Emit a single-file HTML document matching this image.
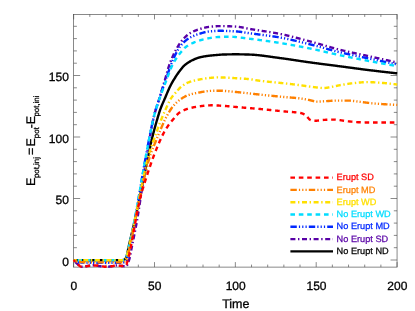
<!DOCTYPE html>
<html><head><meta charset="utf-8"><title>plot</title>
<style>html,body{margin:0;padding:0;background:#fff;}svg{display:block;will-change:transform;}text{text-rendering:geometricPrecision;font-family:"Liberation Sans",sans-serif;}</style></head><body>
<svg width="415" height="311" viewBox="0 0 415 311">
<rect width="415" height="311" fill="#ffffff"/>
<g stroke="#4a4a4a" stroke-width="0.65" fill="none">
<rect x="73.65" y="14.40" width="323.40" height="252.70"/>
<path d="M73.65 267.10 v-5.00 M73.65 14.40 v5.00 M89.82 267.10 v-2.50 M89.82 14.40 v2.50 M105.99 267.10 v-2.50 M105.99 14.40 v2.50 M122.16 267.10 v-2.50 M122.16 14.40 v2.50 M138.33 267.10 v-2.50 M138.33 14.40 v2.50 M154.50 267.10 v-5.00 M154.50 14.40 v5.00 M170.67 267.10 v-2.50 M170.67 14.40 v2.50 M186.84 267.10 v-2.50 M186.84 14.40 v2.50 M203.01 267.10 v-2.50 M203.01 14.40 v2.50 M219.18 267.10 v-2.50 M219.18 14.40 v2.50 M235.35 267.10 v-5.00 M235.35 14.40 v5.00 M251.52 267.10 v-2.50 M251.52 14.40 v2.50 M267.69 267.10 v-2.50 M267.69 14.40 v2.50 M283.86 267.10 v-2.50 M283.86 14.40 v2.50 M300.03 267.10 v-2.50 M300.03 14.40 v2.50 M316.20 267.10 v-5.00 M316.20 14.40 v5.00 M332.37 267.10 v-2.50 M332.37 14.40 v2.50 M348.54 267.10 v-2.50 M348.54 14.40 v2.50 M364.71 267.10 v-2.50 M364.71 14.40 v2.50 M380.88 267.10 v-2.50 M380.88 14.40 v2.50 M397.05 267.10 v-5.00 M397.05 14.40 v5.00 M73.65 260.00 h6.50 M397.05 260.00 h-6.50 M73.65 247.70 h3.25 M397.05 247.70 h-3.25 M73.65 235.40 h3.25 M397.05 235.40 h-3.25 M73.65 223.10 h3.25 M397.05 223.10 h-3.25 M73.65 210.80 h3.25 M397.05 210.80 h-3.25 M73.65 198.50 h6.50 M397.05 198.50 h-6.50 M73.65 186.20 h3.25 M397.05 186.20 h-3.25 M73.65 173.90 h3.25 M397.05 173.90 h-3.25 M73.65 161.60 h3.25 M397.05 161.60 h-3.25 M73.65 149.30 h3.25 M397.05 149.30 h-3.25 M73.65 137.00 h6.50 M397.05 137.00 h-6.50 M73.65 124.70 h3.25 M397.05 124.70 h-3.25 M73.65 112.40 h3.25 M397.05 112.40 h-3.25 M73.65 100.10 h3.25 M397.05 100.10 h-3.25 M73.65 87.80 h3.25 M397.05 87.80 h-3.25 M73.65 75.50 h6.50 M397.05 75.50 h-6.50 M73.65 63.20 h3.25 M397.05 63.20 h-3.25 M73.65 50.90 h3.25 M397.05 50.90 h-3.25 M73.65 38.60 h3.25 M397.05 38.60 h-3.25 M73.65 26.30 h3.25 M397.05 26.30 h-3.25"/>
</g>
<g fill="none" stroke-width="2.40" stroke-linejoin="round">
<path d="M73.70 260.20 L74.20 260.20 L74.70 260.20 L75.20 260.20 L75.70 260.20 L76.20 260.20 L76.70 260.20 L77.20 260.20 L77.70 260.20 L78.20 260.20 L78.70 260.20 L79.20 260.20 L79.70 260.20 L80.20 260.20 L80.70 260.20 L81.20 260.20 L81.70 260.20 L82.20 260.20 L82.70 260.20 L83.20 260.20 L83.70 260.20 L84.20 260.20 L84.70 260.20 L85.20 260.20 L85.70 260.20 L86.20 260.20 L86.70 260.20 L87.20 260.20 L87.70 260.20 L88.20 260.20 L88.70 260.20 L89.20 260.20 L89.70 260.20 L90.20 260.20 L90.70 260.20 L91.20 260.20 L91.70 260.20 L92.20 260.20 L92.70 260.20 L93.20 260.20 L93.70 260.20 L94.20 260.20 L94.70 260.20 L95.20 260.20 L95.70 260.20 L96.20 260.20 L96.70 260.20 L97.20 260.20 L97.70 260.20 L98.20 260.20 L98.70 260.20 L99.20 260.20 L99.70 260.20 L100.20 260.20 L100.70 260.20 L101.20 260.20 L101.70 260.20 L102.20 260.20 L102.70 260.20 L103.20 260.20 L103.70 260.20 L104.20 260.20 L104.70 260.20 L105.20 260.20 L105.70 260.20 L106.20 260.20 L106.70 260.20 L107.20 260.20 L107.70 260.20 L108.20 260.20 L108.70 260.20 L109.20 260.20 L109.70 260.20 L110.20 260.20 L110.70 260.20 L111.20 260.20 L111.70 260.20 L112.20 260.20 L112.70 260.20 L113.20 260.20 L113.70 260.20 L114.20 260.20 L114.70 260.20 L115.20 260.20 L115.70 260.20 L116.20 260.20 L116.70 260.20 L117.20 260.20 L117.70 260.20 L118.20 260.20 L118.70 260.20 L119.20 260.20 L119.70 260.20 L120.20 260.20 L120.70 260.20 L121.20 260.20 L121.70 260.20 L122.20 260.19 L122.70 260.13 L123.20 260.00 L123.70 259.80 L124.20 259.56 L124.70 259.26 L125.20 258.92 L125.70 258.49 L126.20 257.48 L126.70 255.89 L127.20 253.88 L127.70 251.57 L128.20 249.10 L128.70 246.63 L129.20 244.29 L129.70 242.18 L130.20 240.12 L130.70 238.04 L131.20 235.95 L131.70 233.84 L132.20 231.71 L132.70 229.57 L133.20 227.41 L133.70 225.23 L134.20 223.04 L134.70 220.83 L135.20 218.60 L135.70 216.35 L136.20 214.09 L136.70 211.80 L137.20 209.49 L137.70 207.15 L138.20 204.78 L138.70 202.40 L139.20 200.00 L139.70 197.59 L140.20 195.16 L140.70 192.72 L141.20 190.27 L141.70 187.82 L142.20 185.36 L142.70 182.90 L143.20 180.45 L143.70 177.99 L144.20 175.55 L144.70 173.11 L145.20 170.68 L145.70 168.26 L146.20 165.86 L146.70 163.47 L147.20 161.09 L147.70 158.68 L148.20 156.25 L148.70 153.82 L149.20 151.40 L149.70 149.01 L150.20 146.65 L150.70 144.34 L151.20 142.10 L151.70 139.94 L152.20 137.86 L152.70 135.83 L153.20 133.85 L153.70 131.91 L154.20 130.01 L154.70 128.15 L155.20 126.32 L155.70 124.53 L156.20 122.76 L156.70 121.03 L157.20 119.32 L157.70 117.62 L158.20 115.95 L158.70 114.31 L159.20 112.71 L159.70 111.17 L160.20 109.70 L160.70 108.30 L161.20 106.98 L161.70 105.74 L162.20 104.54 L162.70 103.39 L163.20 102.25 L163.70 101.13 L164.20 99.99 L164.70 98.83 L165.20 97.66 L165.70 96.47 L166.20 95.28 L166.70 94.09 L167.20 92.90 L167.70 91.72 L168.20 90.56 L168.70 89.42 L169.20 88.31 L169.70 87.23 L170.20 86.18 L170.70 85.19 L171.20 84.23 L171.70 83.31 L172.20 82.42 L172.70 81.55 L173.20 80.70 L173.70 79.87 L174.20 79.06 L174.70 78.27 L175.20 77.49 L175.70 76.72 L176.20 75.95 L176.70 75.20 L177.20 74.45 L177.70 73.72 L178.20 73.00 L178.70 72.29 L179.20 71.61 L179.70 70.93 L180.20 70.28 L180.70 69.65 L181.20 69.01 L181.70 68.38 L182.20 67.75 L182.70 67.15 L183.20 66.58 L183.70 66.04 L184.20 65.56 L184.70 65.13 L185.20 64.73 L185.70 64.34 L186.20 63.96 L186.70 63.59 L187.20 63.24 L187.70 62.90 L188.20 62.57 L188.70 62.25 L189.20 61.94 L189.70 61.64 L190.20 61.35 L190.70 61.07 L191.20 60.80 L191.70 60.54 L192.20 60.29 L192.70 60.04 L193.20 59.81 L193.70 59.58 L194.20 59.36 L194.70 59.14 L195.20 58.93 L195.70 58.72 L196.20 58.53 L196.70 58.33 L197.20 58.15 L197.70 57.98 L198.20 57.81 L198.70 57.66 L199.20 57.51 L199.70 57.38 L200.20 57.25 L200.70 57.13 L201.20 57.02 L201.70 56.91 L202.20 56.81 L202.70 56.71 L203.20 56.61 L203.70 56.52 L204.20 56.43 L204.70 56.34 L205.20 56.26 L205.70 56.19 L206.20 56.11 L206.70 56.04 L207.20 55.97 L207.70 55.91 L208.20 55.84 L208.70 55.78 L209.20 55.72 L209.70 55.67 L210.20 55.61 L210.70 55.56 L211.20 55.51 L211.70 55.46 L212.20 55.41 L212.70 55.36 L213.20 55.32 L213.70 55.27 L214.20 55.23 L214.70 55.18 L215.20 55.14 L215.70 55.09 L216.20 55.05 L216.70 55.00 L217.20 54.96 L217.70 54.91 L218.20 54.87 L218.70 54.82 L219.20 54.78 L219.70 54.74 L220.20 54.70 L220.70 54.67 L221.20 54.63 L221.70 54.60 L222.20 54.57 L222.70 54.55 L223.20 54.53 L223.70 54.51 L224.20 54.49 L224.70 54.48 L225.20 54.47 L225.70 54.45 L226.20 54.44 L226.70 54.43 L227.20 54.42 L227.70 54.41 L228.20 54.39 L228.70 54.38 L229.20 54.37 L229.70 54.36 L230.20 54.35 L230.70 54.35 L231.20 54.34 L231.70 54.33 L232.20 54.32 L232.70 54.32 L233.20 54.31 L233.70 54.31 L234.20 54.31 L234.70 54.30 L235.20 54.30 L235.70 54.30 L236.20 54.30 L236.70 54.30 L237.20 54.30 L237.70 54.31 L238.20 54.31 L238.70 54.32 L239.20 54.32 L239.70 54.33 L240.20 54.34 L240.70 54.34 L241.20 54.35 L241.70 54.36 L242.20 54.37 L242.70 54.38 L243.20 54.40 L243.70 54.41 L244.20 54.42 L244.70 54.44 L245.20 54.45 L245.70 54.46 L246.20 54.48 L246.70 54.49 L247.20 54.51 L247.70 54.52 L248.20 54.54 L248.70 54.56 L249.20 54.57 L249.70 54.59 L250.20 54.61 L250.70 54.63 L251.20 54.65 L251.70 54.67 L252.20 54.70 L252.70 54.73 L253.20 54.76 L253.70 54.79 L254.20 54.82 L254.70 54.86 L255.20 54.90 L255.70 54.94 L256.20 54.99 L256.70 55.03 L257.20 55.08 L257.70 55.12 L258.20 55.17 L258.70 55.23 L259.20 55.28 L259.70 55.33 L260.20 55.39 L260.70 55.45 L261.20 55.50 L261.70 55.56 L262.20 55.62 L262.70 55.69 L263.20 55.75 L263.70 55.81 L264.20 55.88 L264.70 55.94 L265.20 56.01 L265.70 56.08 L266.20 56.14 L266.70 56.21 L267.20 56.28 L267.70 56.35 L268.20 56.42 L268.70 56.49 L269.20 56.56 L269.70 56.63 L270.20 56.70 L270.70 56.77 L271.20 56.84 L271.70 56.92 L272.20 56.99 L272.70 57.06 L273.20 57.13 L273.70 57.20 L274.20 57.27 L274.70 57.34 L275.20 57.41 L275.70 57.48 L276.20 57.54 L276.70 57.61 L277.20 57.68 L277.70 57.74 L278.20 57.81 L278.70 57.87 L279.20 57.94 L279.70 58.00 L280.20 58.07 L280.70 58.13 L281.20 58.20 L281.70 58.27 L282.20 58.33 L282.70 58.40 L283.20 58.47 L283.70 58.54 L284.20 58.61 L284.70 58.68 L285.20 58.75 L285.70 58.82 L286.20 58.89 L286.70 58.96 L287.20 59.04 L287.70 59.11 L288.20 59.18 L288.70 59.26 L289.20 59.33 L289.70 59.40 L290.20 59.48 L290.70 59.55 L291.20 59.63 L291.70 59.70 L292.20 59.77 L292.70 59.85 L293.20 59.92 L293.70 60.00 L294.20 60.08 L294.70 60.15 L295.20 60.23 L295.70 60.30 L296.20 60.38 L296.70 60.45 L297.20 60.53 L297.70 60.60 L298.20 60.68 L298.70 60.76 L299.20 60.83 L299.70 60.91 L300.20 60.98 L300.70 61.06 L301.20 61.13 L301.70 61.21 L302.20 61.28 L302.70 61.35 L303.20 61.43 L303.70 61.50 L304.20 61.58 L304.70 61.65 L305.20 61.72 L305.70 61.79 L306.20 61.87 L306.70 61.94 L307.20 62.01 L307.70 62.08 L308.20 62.15 L308.70 62.22 L309.20 62.29 L309.70 62.36 L310.20 62.43 L310.70 62.50 L311.20 62.56 L311.70 62.63 L312.20 62.70 L312.70 62.77 L313.20 62.83 L313.70 62.90 L314.20 62.97 L314.70 63.03 L315.20 63.10 L315.70 63.17 L316.20 63.23 L316.70 63.30 L317.20 63.36 L317.70 63.43 L318.20 63.49 L318.70 63.56 L319.20 63.63 L319.70 63.69 L320.20 63.75 L320.70 63.82 L321.20 63.88 L321.70 63.95 L322.20 64.01 L322.70 64.08 L323.20 64.14 L323.70 64.21 L324.20 64.27 L324.70 64.33 L325.20 64.40 L325.70 64.46 L326.20 64.53 L326.70 64.59 L327.20 64.65 L327.70 64.72 L328.20 64.78 L328.70 64.85 L329.20 64.91 L329.70 64.97 L330.20 65.04 L330.70 65.10 L331.20 65.17 L331.70 65.23 L332.20 65.29 L332.70 65.36 L333.20 65.42 L333.70 65.49 L334.20 65.55 L334.70 65.61 L335.20 65.68 L335.70 65.74 L336.20 65.81 L336.70 65.87 L337.20 65.94 L337.70 66.00 L338.20 66.07 L338.70 66.13 L339.20 66.20 L339.70 66.26 L340.20 66.33 L340.70 66.39 L341.20 66.46 L341.70 66.52 L342.20 66.59 L342.70 66.66 L343.20 66.72 L343.70 66.79 L344.20 66.85 L344.70 66.92 L345.20 66.99 L345.70 67.05 L346.20 67.12 L346.70 67.19 L347.20 67.26 L347.70 67.32 L348.20 67.39 L348.70 67.46 L349.20 67.52 L349.70 67.59 L350.20 67.66 L350.70 67.73 L351.20 67.79 L351.70 67.86 L352.20 67.93 L352.70 67.99 L353.20 68.06 L353.70 68.13 L354.20 68.20 L354.70 68.26 L355.20 68.33 L355.70 68.40 L356.20 68.46 L356.70 68.53 L357.20 68.60 L357.70 68.66 L358.20 68.73 L358.70 68.79 L359.20 68.86 L359.70 68.93 L360.20 68.99 L360.70 69.06 L361.20 69.12 L361.70 69.19 L362.20 69.25 L362.70 69.32 L363.20 69.38 L363.70 69.45 L364.20 69.51 L364.70 69.57 L365.20 69.64 L365.70 69.70 L366.20 69.76 L366.70 69.83 L367.20 69.89 L367.70 69.95 L368.20 70.01 L368.70 70.08 L369.20 70.14 L369.70 70.20 L370.20 70.26 L370.70 70.32 L371.20 70.38 L371.70 70.44 L372.20 70.50 L372.70 70.56 L373.20 70.62 L373.70 70.68 L374.20 70.74 L374.70 70.80 L375.20 70.86 L375.70 70.92 L376.20 70.98 L376.70 71.04 L377.20 71.10 L377.70 71.16 L378.20 71.22 L378.70 71.28 L379.20 71.34 L379.70 71.39 L380.20 71.45 L380.70 71.51 L381.20 71.57 L381.70 71.63 L382.20 71.69 L382.70 71.74 L383.20 71.80 L383.70 71.86 L384.20 71.92 L384.70 71.97 L385.20 72.03 L385.70 72.09 L386.20 72.14 L386.70 72.20 L387.20 72.26 L387.70 72.31 L388.20 72.37 L388.70 72.43 L389.20 72.48 L389.70 72.54 L390.20 72.59 L390.70 72.65 L391.20 72.70 L391.70 72.76 L392.20 72.81 L392.70 72.87 L393.20 72.92 L393.70 72.98 L394.20 73.03 L394.70 73.09 L395.20 73.14 L395.70 73.20 L396.20 73.25 L396.70 73.30 L397.20 73.36" stroke="#000000"/>
<path d="M73.70 260.20 L74.20 260.79 L74.70 261.35 L75.20 261.90 L75.70 262.42 L76.20 262.90 L76.70 263.35 L77.20 263.76 L77.70 264.19 L78.20 264.62 L78.70 265.05 L79.20 265.47 L79.70 265.85 L80.20 266.19 L80.70 266.46 L81.20 266.67 L81.70 266.78 L82.20 266.80 L82.70 266.78 L83.20 266.73 L83.70 266.67 L84.20 266.59 L84.70 266.50 L85.20 266.41 L85.70 266.31 L86.20 266.21 L86.70 266.11 L87.20 266.02 L87.70 265.94 L88.20 265.87 L88.70 265.81 L89.20 265.73 L89.70 265.66 L90.20 265.59 L90.70 265.52 L91.20 265.46 L91.70 265.40 L92.20 265.36 L92.70 265.32 L93.20 265.30 L93.70 265.30 L94.20 265.32 L94.70 265.36 L95.20 265.41 L95.70 265.48 L96.20 265.55 L96.70 265.64 L97.20 265.73 L97.70 265.82 L98.20 265.91 L98.70 266.00 L99.20 266.08 L99.70 266.16 L100.20 266.23 L100.70 266.30 L101.20 266.37 L101.70 266.45 L102.20 266.52 L102.70 266.60 L103.20 266.67 L103.70 266.74 L104.20 266.80 L104.70 266.84 L105.20 266.88 L105.70 266.90 L106.20 266.90 L106.70 266.88 L107.20 266.85 L107.70 266.81 L108.20 266.76 L108.70 266.69 L109.20 266.62 L109.70 266.55 L110.20 266.47 L110.70 266.39 L111.20 266.32 L111.70 266.24 L112.20 266.17 L112.70 266.09 L113.20 265.99 L113.70 265.89 L114.20 265.78 L114.70 265.67 L115.20 265.58 L115.70 265.50 L116.20 265.44 L116.70 265.41 L117.20 265.40 L117.70 265.42 L118.20 265.47 L118.70 265.53 L119.20 265.60 L119.70 265.67 L120.20 265.76 L120.70 265.83 L121.20 265.91 L121.70 265.97 L122.20 266.02 L122.70 266.07 L123.20 266.12 L123.70 266.17 L124.20 266.21 L124.70 266.25 L125.20 266.28 L125.70 266.30 L126.20 266.26 L126.70 265.83 L127.20 265.00 L127.70 263.88 L128.20 262.57 L128.70 261.16 L129.20 259.68 L129.70 257.75 L130.20 255.40 L130.70 252.79 L131.20 250.10 L131.70 247.50 L132.20 245.05 L132.70 242.61 L133.20 240.17 L133.70 237.73 L134.20 235.26 L134.70 232.76 L135.20 230.22 L135.70 227.62 L136.20 224.97 L136.70 222.24 L137.20 219.43 L137.70 216.51 L138.20 213.47 L138.70 210.35 L139.20 207.15 L139.70 203.90 L140.20 200.62 L140.70 197.32 L141.20 194.00 L141.70 190.60 L142.20 187.14 L142.70 183.63 L143.20 180.10 L143.70 176.58 L144.20 173.10 L144.70 169.68 L145.20 166.34 L145.70 163.02 L146.20 159.71 L146.70 156.41 L147.20 153.15 L147.70 149.94 L148.20 146.80 L148.70 143.75 L149.20 140.81 L149.70 137.98 L150.20 135.19 L150.70 132.44 L151.20 129.74 L151.70 127.10 L152.20 124.54 L152.70 122.08 L153.20 119.72 L153.70 117.49 L154.20 115.40 L154.70 113.45 L155.20 111.63 L155.70 109.91 L156.20 108.27 L156.70 106.69 L157.20 105.15 L157.70 103.62 L158.20 102.09 L158.70 100.53 L159.20 98.93 L159.70 97.28 L160.20 95.63 L160.70 93.98 L161.20 92.33 L161.70 90.67 L162.20 89.02 L162.70 87.36 L163.20 85.69 L163.70 84.02 L164.20 82.34 L164.70 80.66 L165.20 78.96 L165.70 77.22 L166.20 75.43 L166.70 73.63 L167.20 71.85 L167.70 70.09 L168.20 68.41 L168.70 66.81 L169.20 65.31 L169.70 63.89 L170.20 62.54 L170.70 61.25 L171.20 60.00 L171.70 58.79 L172.20 57.61 L172.70 56.48 L173.20 55.38 L173.70 54.31 L174.20 53.29 L174.70 52.29 L175.20 51.33 L175.70 50.39 L176.20 49.47 L176.70 48.57 L177.20 47.70 L177.70 46.84 L178.20 46.00 L178.70 45.18 L179.20 44.38 L179.70 43.63 L180.20 42.92 L180.70 42.24 L181.20 41.57 L181.70 40.92 L182.20 40.29 L182.70 39.68 L183.20 39.10 L183.70 38.54 L184.20 38.01 L184.70 37.50 L185.20 37.01 L185.70 36.52 L186.20 36.05 L186.70 35.60 L187.20 35.16 L187.70 34.74 L188.20 34.35 L188.70 33.98 L189.20 33.65 L189.70 33.34 L190.20 33.05 L190.70 32.77 L191.20 32.50 L191.70 32.24 L192.20 31.99 L192.70 31.75 L193.20 31.51 L193.70 31.28 L194.20 31.06 L194.70 30.85 L195.20 30.65 L195.70 30.45 L196.20 30.26 L196.70 30.07 L197.20 29.89 L197.70 29.72 L198.20 29.55 L198.70 29.39 L199.20 29.23 L199.70 29.08 L200.20 28.92 L200.70 28.77 L201.20 28.62 L201.70 28.47 L202.20 28.33 L202.70 28.19 L203.20 28.05 L203.70 27.92 L204.20 27.79 L204.70 27.67 L205.20 27.55 L205.70 27.44 L206.20 27.33 L206.70 27.23 L207.20 27.14 L207.70 27.06 L208.20 26.99 L208.70 26.92 L209.20 26.87 L209.70 26.81 L210.20 26.76 L210.70 26.70 L211.20 26.65 L211.70 26.60 L212.20 26.55 L212.70 26.50 L213.20 26.45 L213.70 26.41 L214.20 26.36 L214.70 26.32 L215.20 26.29 L215.70 26.25 L216.20 26.22 L216.70 26.19 L217.20 26.17 L217.70 26.15 L218.20 26.13 L218.70 26.12 L219.20 26.11 L219.70 26.10 L220.20 26.10 L220.70 26.10 L221.20 26.10 L221.70 26.11 L222.20 26.11 L222.70 26.12 L223.20 26.12 L223.70 26.13 L224.20 26.14 L224.70 26.15 L225.20 26.16 L225.70 26.17 L226.20 26.19 L226.70 26.20 L227.20 26.22 L227.70 26.23 L228.20 26.25 L228.70 26.27 L229.20 26.29 L229.70 26.30 L230.20 26.32 L230.70 26.34 L231.20 26.37 L231.70 26.39 L232.20 26.41 L232.70 26.43 L233.20 26.46 L233.70 26.48 L234.20 26.51 L234.70 26.53 L235.20 26.56 L235.70 26.58 L236.20 26.61 L236.70 26.65 L237.20 26.69 L237.70 26.74 L238.20 26.79 L238.70 26.86 L239.20 26.93 L239.70 27.00 L240.20 27.08 L240.70 27.17 L241.20 27.25 L241.70 27.35 L242.20 27.44 L242.70 27.54 L243.20 27.64 L243.70 27.74 L244.20 27.85 L244.70 27.95 L245.20 28.06 L245.70 28.16 L246.20 28.27 L246.70 28.37 L247.20 28.47 L247.70 28.57 L248.20 28.67 L248.70 28.77 L249.20 28.86 L249.70 28.95 L250.20 29.03 L250.70 29.12 L251.20 29.20 L251.70 29.28 L252.20 29.36 L252.70 29.44 L253.20 29.52 L253.70 29.60 L254.20 29.68 L254.70 29.76 L255.20 29.84 L255.70 29.91 L256.20 29.99 L256.70 30.07 L257.20 30.15 L257.70 30.22 L258.20 30.30 L258.70 30.37 L259.20 30.45 L259.70 30.53 L260.20 30.60 L260.70 30.68 L261.20 30.75 L261.70 30.83 L262.20 30.90 L262.70 30.98 L263.20 31.06 L263.70 31.13 L264.20 31.21 L264.70 31.29 L265.20 31.36 L265.70 31.44 L266.20 31.52 L266.70 31.59 L267.20 31.67 L267.70 31.75 L268.20 31.83 L268.70 31.91 L269.20 31.99 L269.70 32.07 L270.20 32.15 L270.70 32.23 L271.20 32.32 L271.70 32.40 L272.20 32.48 L272.70 32.57 L273.20 32.66 L273.70 32.74 L274.20 32.83 L274.70 32.92 L275.20 33.01 L275.70 33.10 L276.20 33.19 L276.70 33.28 L277.20 33.37 L277.70 33.47 L278.20 33.56 L278.70 33.66 L279.20 33.76 L279.70 33.86 L280.20 33.96 L280.70 34.06 L281.20 34.16 L281.70 34.27 L282.20 34.38 L282.70 34.48 L283.20 34.59 L283.70 34.70 L284.20 34.81 L284.70 34.92 L285.20 35.04 L285.70 35.15 L286.20 35.27 L286.70 35.38 L287.20 35.50 L287.70 35.62 L288.20 35.74 L288.70 35.86 L289.20 35.98 L289.70 36.10 L290.20 36.22 L290.70 36.34 L291.20 36.47 L291.70 36.59 L292.20 36.72 L292.70 36.84 L293.20 36.97 L293.70 37.10 L294.20 37.23 L294.70 37.35 L295.20 37.48 L295.70 37.61 L296.20 37.74 L296.70 37.87 L297.20 38.00 L297.70 38.13 L298.20 38.27 L298.70 38.40 L299.20 38.53 L299.70 38.66 L300.20 38.79 L300.70 38.93 L301.20 39.06 L301.70 39.19 L302.20 39.33 L302.70 39.46 L303.20 39.59 L303.70 39.73 L304.20 39.86 L304.70 39.99 L305.20 40.13 L305.70 40.26 L306.20 40.39 L306.70 40.53 L307.20 40.66 L307.70 40.79 L308.20 40.92 L308.70 41.06 L309.20 41.19 L309.70 41.32 L310.20 41.45 L310.70 41.59 L311.20 41.72 L311.70 41.85 L312.20 41.99 L312.70 42.13 L313.20 42.26 L313.70 42.40 L314.20 42.54 L314.70 42.68 L315.20 42.82 L315.70 42.96 L316.20 43.10 L316.70 43.25 L317.20 43.39 L317.70 43.53 L318.20 43.68 L318.70 43.82 L319.20 43.96 L319.70 44.11 L320.20 44.26 L320.70 44.40 L321.20 44.55 L321.70 44.69 L322.20 44.84 L322.70 44.99 L323.20 45.13 L323.70 45.28 L324.20 45.42 L324.70 45.57 L325.20 45.72 L325.70 45.86 L326.20 46.01 L326.70 46.16 L327.20 46.30 L327.70 46.45 L328.20 46.59 L328.70 46.73 L329.20 46.88 L329.70 47.02 L330.20 47.17 L330.70 47.31 L331.20 47.45 L331.70 47.59 L332.20 47.73 L332.70 47.87 L333.20 48.01 L333.70 48.15 L334.20 48.28 L334.70 48.42 L335.20 48.56 L335.70 48.69 L336.20 48.82 L336.70 48.96 L337.20 49.09 L337.70 49.22 L338.20 49.35 L338.70 49.47 L339.20 49.60 L339.70 49.73 L340.20 49.85 L340.70 49.97 L341.20 50.09 L341.70 50.22 L342.20 50.34 L342.70 50.45 L343.20 50.57 L343.70 50.69 L344.20 50.81 L344.70 50.92 L345.20 51.04 L345.70 51.16 L346.20 51.27 L346.70 51.38 L347.20 51.50 L347.70 51.61 L348.20 51.72 L348.70 51.83 L349.20 51.95 L349.70 52.06 L350.20 52.17 L350.70 52.28 L351.20 52.39 L351.70 52.50 L352.20 52.60 L352.70 52.71 L353.20 52.82 L353.70 52.93 L354.20 53.04 L354.70 53.14 L355.20 53.25 L355.70 53.36 L356.20 53.46 L356.70 53.57 L357.20 53.68 L357.70 53.78 L358.20 53.89 L358.70 54.00 L359.20 54.10 L359.70 54.21 L360.20 54.32 L360.70 54.42 L361.20 54.53 L361.70 54.64 L362.20 54.74 L362.70 54.85 L363.20 54.96 L363.70 55.07 L364.20 55.17 L364.70 55.28 L365.20 55.39 L365.70 55.50 L366.20 55.61 L366.70 55.72 L367.20 55.82 L367.70 55.93 L368.20 56.04 L368.70 56.16 L369.20 56.27 L369.70 56.38 L370.20 56.49 L370.70 56.60 L371.20 56.71 L371.70 56.82 L372.20 56.93 L372.70 57.04 L373.20 57.16 L373.70 57.27 L374.20 57.38 L374.70 57.49 L375.20 57.60 L375.70 57.71 L376.20 57.82 L376.70 57.93 L377.20 58.05 L377.70 58.16 L378.20 58.27 L378.70 58.38 L379.20 58.49 L379.70 58.60 L380.20 58.71 L380.70 58.83 L381.20 58.94 L381.70 59.05 L382.20 59.16 L382.70 59.27 L383.20 59.38 L383.70 59.49 L384.20 59.61 L384.70 59.72 L385.20 59.83 L385.70 59.94 L386.20 60.05 L386.70 60.16 L387.20 60.28 L387.70 60.39 L388.20 60.50 L388.70 60.61 L389.20 60.72 L389.70 60.83 L390.20 60.95 L390.70 61.06 L391.20 61.17 L391.70 61.28 L392.20 61.39 L392.70 61.50 L393.20 61.62 L393.70 61.73 L394.20 61.84 L394.70 61.95 L395.20 62.06 L395.70 62.17 L396.20 62.29 L396.70 62.40 L397.20 62.51" stroke="#5800a6" stroke-dasharray="5 2.6 1.4 2.6" stroke-dashoffset="-2.40"/>
<path d="M73.70 260.20 L74.20 260.50 L74.70 260.80 L75.20 261.10 L75.70 261.38 L76.20 261.64 L76.70 261.86 L77.20 262.04 L77.70 262.16 L78.20 262.22 L78.70 262.26 L79.20 262.30 L79.70 262.34 L80.20 262.37 L80.70 262.41 L81.20 262.44 L81.70 262.47 L82.20 262.50 L82.70 262.52 L83.20 262.55 L83.70 262.57 L84.20 262.59 L84.70 262.61 L85.20 262.63 L85.70 262.64 L86.20 262.65 L86.70 262.67 L87.20 262.68 L87.70 262.68 L88.20 262.69 L88.70 262.69 L89.20 262.70 L89.70 262.70 L90.20 262.70 L90.70 262.70 L91.20 262.70 L91.70 262.70 L92.20 262.70 L92.70 262.70 L93.20 262.70 L93.70 262.70 L94.20 262.70 L94.70 262.70 L95.20 262.70 L95.70 262.70 L96.20 262.70 L96.70 262.70 L97.20 262.70 L97.70 262.70 L98.20 262.70 L98.70 262.70 L99.20 262.70 L99.70 262.70 L100.20 262.70 L100.70 262.70 L101.20 262.70 L101.70 262.70 L102.20 262.70 L102.70 262.70 L103.20 262.70 L103.70 262.70 L104.20 262.70 L104.70 262.70 L105.20 262.70 L105.70 262.70 L106.20 262.70 L106.70 262.70 L107.20 262.70 L107.70 262.70 L108.20 262.70 L108.70 262.70 L109.20 262.70 L109.70 262.70 L110.20 262.70 L110.70 262.70 L111.20 262.70 L111.70 262.70 L112.20 262.70 L112.70 262.70 L113.20 262.70 L113.70 262.70 L114.20 262.70 L114.70 262.70 L115.20 262.70 L115.70 262.70 L116.20 262.70 L116.70 262.70 L117.20 262.70 L117.70 262.70 L118.20 262.70 L118.70 262.70 L119.20 262.70 L119.70 262.70 L120.20 262.70 L120.70 262.70 L121.20 262.70 L121.70 262.70 L122.20 262.69 L122.70 262.64 L123.20 262.53 L123.70 262.36 L124.20 262.14 L124.70 261.87 L125.20 261.55 L125.70 261.20 L126.20 260.80 L126.70 260.00 L127.20 258.54 L127.70 256.56 L128.20 254.20 L128.70 251.63 L129.20 248.99 L129.70 246.43 L130.20 244.07 L130.70 241.69 L131.20 239.22 L131.70 236.69 L132.20 234.09 L132.70 231.44 L133.20 228.75 L133.70 226.03 L134.20 223.28 L134.70 220.52 L135.20 217.76 L135.70 215.00 L136.20 212.22 L136.70 209.40 L137.20 206.54 L137.70 203.65 L138.20 200.73 L138.70 197.79 L139.20 194.83 L139.70 191.86 L140.20 188.89 L140.70 185.91 L141.20 182.94 L141.70 179.99 L142.20 177.04 L142.70 174.13 L143.20 171.24 L143.70 168.38 L144.20 165.56 L144.70 162.77 L145.20 159.98 L145.70 157.20 L146.20 154.44 L146.70 151.70 L147.20 148.99 L147.70 146.32 L148.20 143.69 L148.70 141.12 L149.20 138.60 L149.70 136.10 L150.20 133.61 L150.70 131.14 L151.20 128.70 L151.70 126.30 L152.20 123.96 L152.70 121.68 L153.20 119.49 L153.70 117.38 L154.20 115.39 L154.70 113.49 L155.20 111.69 L155.70 109.95 L156.20 108.28 L156.70 106.66 L157.20 105.07 L157.70 103.52 L158.20 101.98 L158.70 100.45 L159.20 98.91 L159.70 97.37 L160.20 95.85 L160.70 94.35 L161.20 92.87 L161.70 91.40 L162.20 89.95 L162.70 88.51 L163.20 87.07 L163.70 85.64 L164.20 84.21 L164.70 82.79 L165.20 81.36 L165.70 79.93 L166.20 78.48 L166.70 77.02 L167.20 75.56 L167.70 74.10 L168.20 72.64 L168.70 71.19 L169.20 69.76 L169.70 68.35 L170.20 66.96 L170.70 65.60 L171.20 64.28 L171.70 63.00 L172.20 61.76 L172.70 60.55 L173.20 59.37 L173.70 58.22 L174.20 57.11 L174.70 56.04 L175.20 55.00 L175.70 54.00 L176.20 53.01 L176.70 52.05 L177.20 51.11 L177.70 50.21 L178.20 49.35 L178.70 48.55 L179.20 47.80 L179.70 47.10 L180.20 46.42 L180.70 45.76 L181.20 45.13 L181.70 44.53 L182.20 43.95 L182.70 43.40 L183.20 42.86 L183.70 42.36 L184.20 41.88 L184.70 41.42 L185.20 40.98 L185.70 40.55 L186.20 40.13 L186.70 39.74 L187.20 39.36 L187.70 38.99 L188.20 38.65 L188.70 38.33 L189.20 38.03 L189.70 37.75 L190.20 37.48 L190.70 37.22 L191.20 36.97 L191.70 36.72 L192.20 36.48 L192.70 36.25 L193.20 36.03 L193.70 35.82 L194.20 35.61 L194.70 35.40 L195.20 35.21 L195.70 35.02 L196.20 34.83 L196.70 34.65 L197.20 34.48 L197.70 34.31 L198.20 34.14 L198.70 33.98 L199.20 33.83 L199.70 33.68 L200.20 33.53 L200.70 33.38 L201.20 33.23 L201.70 33.08 L202.20 32.93 L202.70 32.79 L203.20 32.65 L203.70 32.51 L204.20 32.38 L204.70 32.26 L205.20 32.14 L205.70 32.02 L206.20 31.92 L206.70 31.82 L207.20 31.73 L207.70 31.65 L208.20 31.58 L208.70 31.52 L209.20 31.47 L209.70 31.42 L210.20 31.37 L210.70 31.32 L211.20 31.28 L211.70 31.23 L212.20 31.19 L212.70 31.14 L213.20 31.10 L213.70 31.06 L214.20 31.03 L214.70 30.99 L215.20 30.96 L215.70 30.93 L216.20 30.90 L216.70 30.88 L217.20 30.86 L217.70 30.84 L218.20 30.82 L218.70 30.81 L219.20 30.80 L219.70 30.80 L220.20 30.80 L220.70 30.80 L221.20 30.80 L221.70 30.81 L222.20 30.82 L222.70 30.82 L223.20 30.83 L223.70 30.84 L224.20 30.85 L224.70 30.87 L225.20 30.88 L225.70 30.90 L226.20 30.91 L226.70 30.93 L227.20 30.95 L227.70 30.97 L228.20 30.99 L228.70 31.01 L229.20 31.03 L229.70 31.06 L230.20 31.08 L230.70 31.11 L231.20 31.13 L231.70 31.16 L232.20 31.18 L232.70 31.21 L233.20 31.24 L233.70 31.27 L234.20 31.29 L234.70 31.32 L235.20 31.35 L235.70 31.38 L236.20 31.41 L236.70 31.45 L237.20 31.49 L237.70 31.53 L238.20 31.58 L238.70 31.63 L239.20 31.69 L239.70 31.75 L240.20 31.81 L240.70 31.88 L241.20 31.95 L241.70 32.02 L242.20 32.09 L242.70 32.17 L243.20 32.25 L243.70 32.32 L244.20 32.40 L244.70 32.48 L245.20 32.56 L245.70 32.64 L246.20 32.72 L246.70 32.80 L247.20 32.88 L247.70 32.96 L248.20 33.04 L248.70 33.11 L249.20 33.19 L249.70 33.26 L250.20 33.33 L250.70 33.40 L251.20 33.46 L251.70 33.53 L252.20 33.60 L252.70 33.66 L253.20 33.73 L253.70 33.79 L254.20 33.86 L254.70 33.92 L255.20 33.99 L255.70 34.05 L256.20 34.12 L256.70 34.18 L257.20 34.25 L257.70 34.31 L258.20 34.37 L258.70 34.44 L259.20 34.50 L259.70 34.57 L260.20 34.63 L260.70 34.69 L261.20 34.76 L261.70 34.82 L262.20 34.89 L262.70 34.95 L263.20 35.01 L263.70 35.08 L264.20 35.14 L264.70 35.21 L265.20 35.28 L265.70 35.34 L266.20 35.41 L266.70 35.47 L267.20 35.54 L267.70 35.61 L268.20 35.68 L268.70 35.75 L269.20 35.81 L269.70 35.88 L270.20 35.95 L270.70 36.03 L271.20 36.10 L271.70 36.17 L272.20 36.24 L272.70 36.32 L273.20 36.39 L273.70 36.47 L274.20 36.54 L274.70 36.62 L275.20 36.70 L275.70 36.77 L276.20 36.85 L276.70 36.93 L277.20 37.02 L277.70 37.10 L278.20 37.18 L278.70 37.27 L279.20 37.35 L279.70 37.44 L280.20 37.53 L280.70 37.62 L281.20 37.71 L281.70 37.80 L282.20 37.89 L282.70 37.99 L283.20 38.09 L283.70 38.18 L284.20 38.28 L284.70 38.38 L285.20 38.48 L285.70 38.58 L286.20 38.69 L286.70 38.79 L287.20 38.90 L287.70 39.00 L288.20 39.11 L288.70 39.22 L289.20 39.33 L289.70 39.43 L290.20 39.55 L290.70 39.66 L291.20 39.77 L291.70 39.88 L292.20 40.00 L292.70 40.11 L293.20 40.22 L293.70 40.34 L294.20 40.46 L294.70 40.57 L295.20 40.69 L295.70 40.81 L296.20 40.93 L296.70 41.05 L297.20 41.17 L297.70 41.29 L298.20 41.41 L298.70 41.53 L299.20 41.65 L299.70 41.77 L300.20 41.89 L300.70 42.01 L301.20 42.14 L301.70 42.26 L302.20 42.38 L302.70 42.50 L303.20 42.63 L303.70 42.75 L304.20 42.87 L304.70 43.00 L305.20 43.12 L305.70 43.24 L306.20 43.37 L306.70 43.49 L307.20 43.61 L307.70 43.74 L308.20 43.86 L308.70 43.98 L309.20 44.10 L309.70 44.23 L310.20 44.35 L310.70 44.47 L311.20 44.60 L311.70 44.72 L312.20 44.85 L312.70 44.98 L313.20 45.10 L313.70 45.23 L314.20 45.37 L314.70 45.50 L315.20 45.63 L315.70 45.76 L316.20 45.90 L316.70 46.03 L317.20 46.16 L317.70 46.30 L318.20 46.44 L318.70 46.57 L319.20 46.71 L319.70 46.85 L320.20 46.99 L320.70 47.13 L321.20 47.26 L321.70 47.40 L322.20 47.54 L322.70 47.68 L323.20 47.82 L323.70 47.96 L324.20 48.10 L324.70 48.24 L325.20 48.38 L325.70 48.52 L326.20 48.66 L326.70 48.80 L327.20 48.94 L327.70 49.08 L328.20 49.22 L328.70 49.35 L329.20 49.49 L329.70 49.63 L330.20 49.77 L330.70 49.90 L331.20 50.04 L331.70 50.18 L332.20 50.31 L332.70 50.44 L333.20 50.58 L333.70 50.71 L334.20 50.84 L334.70 50.97 L335.20 51.10 L335.70 51.23 L336.20 51.36 L336.70 51.49 L337.20 51.61 L337.70 51.74 L338.20 51.86 L338.70 51.99 L339.20 52.11 L339.70 52.23 L340.20 52.35 L340.70 52.47 L341.20 52.58 L341.70 52.70 L342.20 52.82 L342.70 52.93 L343.20 53.05 L343.70 53.16 L344.20 53.27 L344.70 53.39 L345.20 53.50 L345.70 53.61 L346.20 53.72 L346.70 53.83 L347.20 53.94 L347.70 54.05 L348.20 54.16 L348.70 54.27 L349.20 54.38 L349.70 54.49 L350.20 54.59 L350.70 54.70 L351.20 54.81 L351.70 54.91 L352.20 55.02 L352.70 55.13 L353.20 55.23 L353.70 55.34 L354.20 55.44 L354.70 55.55 L355.20 55.65 L355.70 55.75 L356.20 55.86 L356.70 55.96 L357.20 56.07 L357.70 56.17 L358.20 56.27 L358.70 56.38 L359.20 56.48 L359.70 56.58 L360.20 56.69 L360.70 56.79 L361.20 56.89 L361.70 57.00 L362.20 57.10 L362.70 57.20 L363.20 57.31 L363.70 57.41 L364.20 57.52 L364.70 57.62 L365.20 57.72 L365.70 57.83 L366.20 57.93 L366.70 58.04 L367.20 58.14 L367.70 58.25 L368.20 58.35 L368.70 58.46 L369.20 58.56 L369.70 58.67 L370.20 58.78 L370.70 58.88 L371.20 58.99 L371.70 59.09 L372.20 59.20 L372.70 59.30 L373.20 59.41 L373.70 59.51 L374.20 59.62 L374.70 59.73 L375.20 59.83 L375.70 59.94 L376.20 60.04 L376.70 60.15 L377.20 60.25 L377.70 60.36 L378.20 60.46 L378.70 60.57 L379.20 60.67 L379.70 60.78 L380.20 60.88 L380.70 60.99 L381.20 61.09 L381.70 61.20 L382.20 61.30 L382.70 61.40 L383.20 61.51 L383.70 61.61 L384.20 61.72 L384.70 61.82 L385.20 61.93 L385.70 62.03 L386.20 62.14 L386.70 62.24 L387.20 62.34 L387.70 62.45 L388.20 62.55 L388.70 62.66 L389.20 62.76 L389.70 62.86 L390.20 62.97 L390.70 63.07 L391.20 63.18 L391.70 63.28 L392.20 63.38 L392.70 63.49 L393.20 63.59 L393.70 63.69 L394.20 63.80 L394.70 63.90 L395.20 64.00 L395.70 64.11 L396.20 64.21 L396.70 64.31 L397.20 64.42" stroke="#0028ff" stroke-dasharray="6.4 2.1 1.2 2.1 1.2 2.1 1.2 2.1" stroke-dashoffset="-4.70"/>
<path d="M73.70 260.20 L74.20 260.20 L74.70 260.20 L75.20 260.20 L75.70 260.20 L76.20 260.20 L76.70 260.20 L77.20 260.20 L77.70 260.20 L78.20 260.20 L78.70 260.20 L79.20 260.20 L79.70 260.20 L80.20 260.20 L80.70 260.20 L81.20 260.20 L81.70 260.20 L82.20 260.20 L82.70 260.20 L83.20 260.20 L83.70 260.20 L84.20 260.20 L84.70 260.20 L85.20 260.20 L85.70 260.20 L86.20 260.20 L86.70 260.20 L87.20 260.20 L87.70 260.20 L88.20 260.20 L88.70 260.20 L89.20 260.20 L89.70 260.20 L90.20 260.20 L90.70 260.20 L91.20 260.20 L91.70 260.20 L92.20 260.20 L92.70 260.20 L93.20 260.20 L93.70 260.20 L94.20 260.20 L94.70 260.20 L95.20 260.20 L95.70 260.20 L96.20 260.20 L96.70 260.20 L97.20 260.20 L97.70 260.20 L98.20 260.20 L98.70 260.20 L99.20 260.20 L99.70 260.20 L100.20 260.20 L100.70 260.20 L101.20 260.20 L101.70 260.20 L102.20 260.20 L102.70 260.20 L103.20 260.20 L103.70 260.20 L104.20 260.20 L104.70 260.20 L105.20 260.20 L105.70 260.20 L106.20 260.20 L106.70 260.20 L107.20 260.20 L107.70 260.20 L108.20 260.20 L108.70 260.20 L109.20 260.20 L109.70 260.20 L110.20 260.20 L110.70 260.20 L111.20 260.20 L111.70 260.20 L112.20 260.20 L112.70 260.20 L113.20 260.20 L113.70 260.20 L114.20 260.20 L114.70 260.20 L115.20 260.20 L115.70 260.20 L116.20 260.20 L116.70 260.20 L117.20 260.20 L117.70 260.20 L118.20 260.20 L118.70 260.20 L119.20 260.20 L119.70 260.20 L120.20 260.20 L120.70 260.20 L121.20 260.20 L121.70 260.20 L122.20 260.19 L122.70 260.13 L123.20 260.00 L123.70 259.80 L124.20 259.55 L124.70 259.26 L125.20 258.92 L125.70 258.50 L126.20 257.57 L126.70 256.12 L127.20 254.29 L127.70 252.17 L128.20 249.88 L128.70 247.55 L129.20 245.28 L129.70 243.17 L130.20 241.02 L130.70 238.80 L131.20 236.52 L131.70 234.17 L132.20 231.76 L132.70 229.31 L133.20 226.81 L133.70 224.28 L134.20 221.73 L134.70 219.15 L135.20 216.56 L135.70 213.96 L136.20 211.30 L136.70 208.59 L137.20 205.83 L137.70 203.03 L138.20 200.20 L138.70 197.33 L139.20 194.44 L139.70 191.52 L140.20 188.60 L140.70 185.67 L141.20 182.75 L141.70 179.83 L142.20 176.92 L142.70 174.03 L143.20 171.17 L143.70 168.34 L144.20 165.55 L144.70 162.79 L145.20 160.01 L145.70 157.24 L146.20 154.48 L146.70 151.73 L147.20 149.01 L147.70 146.33 L148.20 143.70 L148.70 141.12 L149.20 138.60 L149.70 136.10 L150.20 133.60 L150.70 131.11 L151.20 128.66 L151.70 126.25 L152.20 123.89 L152.70 121.62 L153.20 119.43 L153.70 117.35 L154.20 115.38 L154.70 113.53 L155.20 111.76 L155.70 110.07 L156.20 108.44 L156.70 106.86 L157.20 105.33 L157.70 103.84 L158.20 102.37 L158.70 100.91 L159.20 99.47 L159.70 98.02 L160.20 96.60 L160.70 95.20 L161.20 93.83 L161.70 92.48 L162.20 91.14 L162.70 89.83 L163.20 88.52 L163.70 87.22 L164.20 85.93 L164.70 84.64 L165.20 83.35 L165.70 82.06 L166.20 80.76 L166.70 79.45 L167.20 78.11 L167.70 76.76 L168.20 75.41 L168.70 74.06 L169.20 72.72 L169.70 71.41 L170.20 70.14 L170.70 68.91 L171.20 67.73 L171.70 66.62 L172.20 65.58 L172.70 64.59 L173.20 63.63 L173.70 62.71 L174.20 61.83 L174.70 60.97 L175.20 60.15 L175.70 59.36 L176.20 58.58 L176.70 57.83 L177.20 57.10 L177.70 56.39 L178.20 55.70 L178.70 55.02 L179.20 54.36 L179.70 53.72 L180.20 53.09 L180.70 52.48 L181.20 51.88 L181.70 51.28 L182.20 50.69 L182.70 50.10 L183.20 49.52 L183.70 48.97 L184.20 48.44 L184.70 47.94 L185.20 47.49 L185.70 47.08 L186.20 46.70 L186.70 46.35 L187.20 46.01 L187.70 45.69 L188.20 45.37 L188.70 45.08 L189.20 44.79 L189.70 44.51 L190.20 44.25 L190.70 43.99 L191.20 43.75 L191.70 43.51 L192.20 43.28 L192.70 43.05 L193.20 42.83 L193.70 42.61 L194.20 42.40 L194.70 42.20 L195.20 42.00 L195.70 41.81 L196.20 41.62 L196.70 41.44 L197.20 41.26 L197.70 41.08 L198.20 40.92 L198.70 40.75 L199.20 40.59 L199.70 40.44 L200.20 40.29 L200.70 40.14 L201.20 40.00 L201.70 39.86 L202.20 39.72 L202.70 39.59 L203.20 39.45 L203.70 39.32 L204.20 39.20 L204.70 39.07 L205.20 38.95 L205.70 38.84 L206.20 38.72 L206.70 38.61 L207.20 38.51 L207.70 38.41 L208.20 38.32 L208.70 38.23 L209.20 38.15 L209.70 38.07 L210.20 37.99 L210.70 37.91 L211.20 37.83 L211.70 37.75 L212.20 37.68 L212.70 37.60 L213.20 37.53 L213.70 37.47 L214.20 37.40 L214.70 37.34 L215.20 37.28 L215.70 37.23 L216.20 37.17 L216.70 37.13 L217.20 37.09 L217.70 37.05 L218.20 37.02 L218.70 37.00 L219.20 36.97 L219.70 36.95 L220.20 36.93 L220.70 36.91 L221.20 36.88 L221.70 36.86 L222.20 36.84 L222.70 36.83 L223.20 36.81 L223.70 36.79 L224.20 36.78 L224.70 36.76 L225.20 36.75 L225.70 36.74 L226.20 36.73 L226.70 36.72 L227.20 36.71 L227.70 36.71 L228.20 36.70 L228.70 36.70 L229.20 36.70 L229.70 36.70 L230.20 36.71 L230.70 36.72 L231.20 36.74 L231.70 36.76 L232.20 36.78 L232.70 36.81 L233.20 36.84 L233.70 36.87 L234.20 36.91 L234.70 36.95 L235.20 36.99 L235.70 37.04 L236.20 37.08 L236.70 37.13 L237.20 37.19 L237.70 37.24 L238.20 37.30 L238.70 37.35 L239.20 37.41 L239.70 37.47 L240.20 37.53 L240.70 37.60 L241.20 37.66 L241.70 37.73 L242.20 37.79 L242.70 37.86 L243.20 37.92 L243.70 37.99 L244.20 38.06 L244.70 38.13 L245.20 38.19 L245.70 38.26 L246.20 38.33 L246.70 38.39 L247.20 38.46 L247.70 38.52 L248.20 38.58 L248.70 38.65 L249.20 38.71 L249.70 38.77 L250.20 38.82 L250.70 38.88 L251.20 38.94 L251.70 39.00 L252.20 39.06 L252.70 39.12 L253.20 39.18 L253.70 39.24 L254.20 39.30 L254.70 39.36 L255.20 39.42 L255.70 39.49 L256.20 39.55 L256.70 39.61 L257.20 39.68 L257.70 39.74 L258.20 39.81 L258.70 39.87 L259.20 39.94 L259.70 40.00 L260.20 40.07 L260.70 40.13 L261.20 40.20 L261.70 40.27 L262.20 40.34 L262.70 40.41 L263.20 40.47 L263.70 40.54 L264.20 40.61 L264.70 40.68 L265.20 40.75 L265.70 40.82 L266.20 40.89 L266.70 40.96 L267.20 41.04 L267.70 41.11 L268.20 41.18 L268.70 41.25 L269.20 41.33 L269.70 41.40 L270.20 41.47 L270.70 41.55 L271.20 41.62 L271.70 41.69 L272.20 41.77 L272.70 41.84 L273.20 41.92 L273.70 42.00 L274.20 42.07 L274.70 42.15 L275.20 42.22 L275.70 42.30 L276.20 42.38 L276.70 42.46 L277.20 42.53 L277.70 42.61 L278.20 42.69 L278.70 42.77 L279.20 42.85 L279.70 42.93 L280.20 43.01 L280.70 43.09 L281.20 43.17 L281.70 43.25 L282.20 43.33 L282.70 43.41 L283.20 43.50 L283.70 43.58 L284.20 43.66 L284.70 43.75 L285.20 43.83 L285.70 43.92 L286.20 44.00 L286.70 44.09 L287.20 44.18 L287.70 44.26 L288.20 44.35 L288.70 44.44 L289.20 44.53 L289.70 44.62 L290.20 44.71 L290.70 44.79 L291.20 44.88 L291.70 44.98 L292.20 45.07 L292.70 45.16 L293.20 45.25 L293.70 45.34 L294.20 45.43 L294.70 45.53 L295.20 45.62 L295.70 45.71 L296.20 45.81 L296.70 45.90 L297.20 45.99 L297.70 46.09 L298.20 46.18 L298.70 46.28 L299.20 46.37 L299.70 46.47 L300.20 46.57 L300.70 46.66 L301.20 46.76 L301.70 46.86 L302.20 46.95 L302.70 47.05 L303.20 47.15 L303.70 47.25 L304.20 47.34 L304.70 47.44 L305.20 47.54 L305.70 47.64 L306.20 47.74 L306.70 47.84 L307.20 47.94 L307.70 48.04 L308.20 48.14 L308.70 48.24 L309.20 48.34 L309.70 48.44 L310.20 48.54 L310.70 48.64 L311.20 48.74 L311.70 48.85 L312.20 48.95 L312.70 49.06 L313.20 49.16 L313.70 49.27 L314.20 49.38 L314.70 49.48 L315.20 49.59 L315.70 49.70 L316.20 49.81 L316.70 49.92 L317.20 50.03 L317.70 50.14 L318.20 50.26 L318.70 50.37 L319.20 50.48 L319.70 50.59 L320.20 50.71 L320.70 50.82 L321.20 50.94 L321.70 51.05 L322.20 51.17 L322.70 51.28 L323.20 51.40 L323.70 51.51 L324.20 51.63 L324.70 51.74 L325.20 51.86 L325.70 51.98 L326.20 52.09 L326.70 52.21 L327.20 52.32 L327.70 52.44 L328.20 52.56 L328.70 52.67 L329.20 52.79 L329.70 52.90 L330.20 53.02 L330.70 53.13 L331.20 53.25 L331.70 53.36 L332.20 53.48 L332.70 53.59 L333.20 53.70 L333.70 53.82 L334.20 53.93 L334.70 54.04 L335.20 54.15 L335.70 54.27 L336.20 54.38 L336.70 54.49 L337.20 54.60 L337.70 54.71 L338.20 54.81 L338.70 54.92 L339.20 55.03 L339.70 55.14 L340.20 55.24 L340.70 55.35 L341.20 55.45 L341.70 55.56 L342.20 55.66 L342.70 55.77 L343.20 55.87 L343.70 55.98 L344.20 56.08 L344.70 56.18 L345.20 56.29 L345.70 56.39 L346.20 56.50 L346.70 56.60 L347.20 56.70 L347.70 56.80 L348.20 56.91 L348.70 57.01 L349.20 57.11 L349.70 57.21 L350.20 57.32 L350.70 57.42 L351.20 57.52 L351.70 57.62 L352.20 57.72 L352.70 57.82 L353.20 57.92 L353.70 58.02 L354.20 58.13 L354.70 58.23 L355.20 58.33 L355.70 58.43 L356.20 58.53 L356.70 58.63 L357.20 58.72 L357.70 58.82 L358.20 58.92 L358.70 59.02 L359.20 59.12 L359.70 59.22 L360.20 59.32 L360.70 59.42 L361.20 59.51 L361.70 59.61 L362.20 59.71 L362.70 59.81 L363.20 59.90 L363.70 60.00 L364.20 60.10 L364.70 60.19 L365.20 60.29 L365.70 60.39 L366.20 60.48 L366.70 60.58 L367.20 60.68 L367.70 60.77 L368.20 60.87 L368.70 60.96 L369.20 61.06 L369.70 61.15 L370.20 61.25 L370.70 61.34 L371.20 61.44 L371.70 61.53 L372.20 61.63 L372.70 61.72 L373.20 61.81 L373.70 61.91 L374.20 62.00 L374.70 62.09 L375.20 62.19 L375.70 62.28 L376.20 62.37 L376.70 62.47 L377.20 62.56 L377.70 62.65 L378.20 62.74 L378.70 62.84 L379.20 62.93 L379.70 63.02 L380.20 63.11 L380.70 63.20 L381.20 63.29 L381.70 63.39 L382.20 63.48 L382.70 63.57 L383.20 63.66 L383.70 63.75 L384.20 63.84 L384.70 63.93 L385.20 64.02 L385.70 64.11 L386.20 64.20 L386.70 64.29 L387.20 64.38 L387.70 64.47 L388.20 64.56 L388.70 64.65 L389.20 64.73 L389.70 64.82 L390.20 64.91 L390.70 65.00 L391.20 65.09 L391.70 65.18 L392.20 65.26 L392.70 65.35 L393.20 65.44 L393.70 65.53 L394.20 65.61 L394.70 65.70 L395.20 65.79 L395.70 65.87 L396.20 65.96 L396.70 66.05 L397.20 66.13" stroke="#00dcff" stroke-dasharray="4.6 3.8" stroke-dashoffset="-3.90"/>
<path d="M73.70 260.20 L74.20 260.20 L74.70 260.20 L75.20 260.20 L75.70 260.20 L76.20 260.20 L76.70 260.20 L77.20 260.20 L77.70 260.20 L78.20 260.20 L78.70 260.20 L79.20 260.20 L79.70 260.20 L80.20 260.20 L80.70 260.20 L81.20 260.20 L81.70 260.20 L82.20 260.20 L82.70 260.20 L83.20 260.20 L83.70 260.20 L84.20 260.20 L84.70 260.20 L85.20 260.20 L85.70 260.20 L86.20 260.20 L86.70 260.20 L87.20 260.20 L87.70 260.20 L88.20 260.20 L88.70 260.20 L89.20 260.20 L89.70 260.20 L90.20 260.20 L90.70 260.20 L91.20 260.20 L91.70 260.20 L92.20 260.20 L92.70 260.20 L93.20 260.20 L93.70 260.20 L94.20 260.20 L94.70 260.20 L95.20 260.20 L95.70 260.20 L96.20 260.20 L96.70 260.20 L97.20 260.20 L97.70 260.20 L98.20 260.20 L98.70 260.20 L99.20 260.20 L99.70 260.20 L100.20 260.20 L100.70 260.20 L101.20 260.20 L101.70 260.20 L102.20 260.20 L102.70 260.20 L103.20 260.20 L103.70 260.20 L104.20 260.20 L104.70 260.20 L105.20 260.20 L105.70 260.20 L106.20 260.20 L106.70 260.20 L107.20 260.20 L107.70 260.20 L108.20 260.20 L108.70 260.20 L109.20 260.20 L109.70 260.20 L110.20 260.20 L110.70 260.20 L111.20 260.20 L111.70 260.20 L112.20 260.20 L112.70 260.20 L113.20 260.20 L113.70 260.20 L114.20 260.20 L114.70 260.20 L115.20 260.20 L115.70 260.20 L116.20 260.20 L116.70 260.20 L117.20 260.20 L117.70 260.20 L118.20 260.20 L118.70 260.20 L119.20 260.20 L119.70 260.20 L120.20 260.20 L120.70 260.20 L121.20 260.20 L121.70 260.20 L122.20 260.20 L122.70 260.14 L123.20 260.04 L123.70 259.88 L124.20 259.69 L124.70 259.45 L125.20 259.18 L125.70 258.83 L126.20 257.98 L126.70 256.64 L127.20 254.89 L127.70 252.86 L128.20 250.65 L128.70 248.37 L129.20 246.11 L129.70 244.00 L130.20 241.95 L130.70 239.81 L131.20 237.60 L131.70 235.32 L132.20 232.99 L132.70 230.61 L133.20 228.20 L133.70 225.77 L134.20 223.32 L134.70 220.86 L135.20 218.41 L135.70 215.97 L136.20 213.54 L136.70 211.07 L137.20 208.56 L137.70 206.02 L138.20 203.47 L138.70 200.91 L139.20 198.35 L139.70 195.80 L140.20 193.28 L140.70 190.78 L141.20 188.34 L141.70 185.94 L142.20 183.59 L142.70 181.24 L143.20 178.89 L143.70 176.54 L144.20 174.20 L144.70 171.89 L145.20 169.60 L145.70 167.36 L146.20 165.16 L146.70 163.02 L147.20 160.95 L147.70 158.95 L148.20 157.03 L148.70 155.20 L149.20 153.46 L149.70 151.79 L150.20 150.18 L150.70 148.63 L151.20 147.13 L151.70 145.65 L152.20 144.21 L152.70 142.79 L153.20 141.37 L153.70 139.95 L154.20 138.53 L154.70 137.11 L155.20 135.70 L155.70 134.31 L156.20 132.92 L156.70 131.55 L157.20 130.18 L157.70 128.83 L158.20 127.49 L158.70 126.16 L159.20 124.85 L159.70 123.55 L160.20 122.26 L160.70 120.99 L161.20 119.73 L161.70 118.48 L162.20 117.26 L162.70 116.05 L163.20 114.85 L163.70 113.68 L164.20 112.53 L164.70 111.39 L165.20 110.27 L165.70 109.17 L166.20 108.08 L166.70 106.99 L167.20 105.88 L167.70 104.77 L168.20 103.68 L168.70 102.62 L169.20 101.60 L169.70 100.63 L170.20 99.73 L170.70 98.90 L171.20 98.14 L171.70 97.43 L172.20 96.75 L172.70 96.10 L173.20 95.48 L173.70 94.89 L174.20 94.31 L174.70 93.73 L175.20 93.17 L175.70 92.60 L176.20 92.03 L176.70 91.45 L177.20 90.87 L177.70 90.30 L178.20 89.74 L178.70 89.18 L179.20 88.65 L179.70 88.13 L180.20 87.63 L180.70 87.16 L181.20 86.73 L181.70 86.32 L182.20 85.96 L182.70 85.61 L183.20 85.26 L183.70 84.93 L184.20 84.62 L184.70 84.31 L185.20 84.01 L185.70 83.73 L186.20 83.45 L186.70 83.19 L187.20 82.94 L187.70 82.71 L188.20 82.49 L188.70 82.28 L189.20 82.08 L189.70 81.90 L190.20 81.73 L190.70 81.57 L191.20 81.41 L191.70 81.26 L192.20 81.12 L192.70 80.98 L193.20 80.85 L193.70 80.72 L194.20 80.60 L194.70 80.48 L195.20 80.36 L195.70 80.25 L196.20 80.15 L196.70 80.04 L197.20 79.94 L197.70 79.84 L198.20 79.74 L198.70 79.64 L199.20 79.54 L199.70 79.45 L200.20 79.35 L200.70 79.26 L201.20 79.16 L201.70 79.07 L202.20 78.98 L202.70 78.89 L203.20 78.81 L203.70 78.72 L204.20 78.64 L204.70 78.56 L205.20 78.48 L205.70 78.41 L206.20 78.34 L206.70 78.27 L207.20 78.20 L207.70 78.14 L208.20 78.08 L208.70 78.03 L209.20 77.97 L209.70 77.93 L210.20 77.88 L210.70 77.84 L211.20 77.79 L211.70 77.75 L212.20 77.71 L212.70 77.66 L213.20 77.62 L213.70 77.59 L214.20 77.55 L214.70 77.52 L215.20 77.49 L215.70 77.46 L216.20 77.44 L216.70 77.42 L217.20 77.41 L217.70 77.40 L218.20 77.40 L218.70 77.40 L219.20 77.41 L219.70 77.41 L220.20 77.42 L220.70 77.43 L221.20 77.44 L221.70 77.45 L222.20 77.47 L222.70 77.49 L223.20 77.50 L223.70 77.52 L224.20 77.54 L224.70 77.57 L225.20 77.59 L225.70 77.61 L226.20 77.64 L226.70 77.66 L227.20 77.69 L227.70 77.72 L228.20 77.74 L228.70 77.77 L229.20 77.80 L229.70 77.83 L230.20 77.86 L230.70 77.89 L231.20 77.92 L231.70 77.95 L232.20 77.98 L232.70 78.01 L233.20 78.04 L233.70 78.07 L234.20 78.10 L234.70 78.13 L235.20 78.16 L235.70 78.18 L236.20 78.21 L236.70 78.24 L237.20 78.26 L237.70 78.29 L238.20 78.32 L238.70 78.35 L239.20 78.38 L239.70 78.40 L240.20 78.43 L240.70 78.46 L241.20 78.49 L241.70 78.52 L242.20 78.56 L242.70 78.59 L243.20 78.62 L243.70 78.66 L244.20 78.69 L244.70 78.73 L245.20 78.76 L245.70 78.80 L246.20 78.84 L246.70 78.89 L247.20 78.93 L247.70 78.97 L248.20 79.02 L248.70 79.07 L249.20 79.13 L249.70 79.19 L250.20 79.25 L250.70 79.32 L251.20 79.40 L251.70 79.47 L252.20 79.55 L252.70 79.63 L253.20 79.71 L253.70 79.80 L254.20 79.88 L254.70 79.97 L255.20 80.06 L255.70 80.14 L256.20 80.23 L256.70 80.31 L257.20 80.39 L257.70 80.47 L258.20 80.55 L258.70 80.62 L259.20 80.69 L259.70 80.76 L260.20 80.83 L260.70 80.89 L261.20 80.95 L261.70 81.01 L262.20 81.07 L262.70 81.12 L263.20 81.18 L263.70 81.24 L264.20 81.29 L264.70 81.35 L265.20 81.40 L265.70 81.46 L266.20 81.51 L266.70 81.56 L267.20 81.61 L267.70 81.67 L268.20 81.72 L268.70 81.77 L269.20 81.82 L269.70 81.87 L270.20 81.92 L270.70 81.97 L271.20 82.01 L271.70 82.06 L272.20 82.11 L272.70 82.16 L273.20 82.21 L273.70 82.26 L274.20 82.30 L274.70 82.35 L275.20 82.40 L275.70 82.45 L276.20 82.50 L276.70 82.55 L277.20 82.60 L277.70 82.64 L278.20 82.69 L278.70 82.74 L279.20 82.79 L279.70 82.84 L280.20 82.90 L280.70 82.95 L281.20 83.00 L281.70 83.05 L282.20 83.10 L282.70 83.16 L283.20 83.21 L283.70 83.27 L284.20 83.32 L284.70 83.38 L285.20 83.43 L285.70 83.49 L286.20 83.55 L286.70 83.60 L287.20 83.66 L287.70 83.72 L288.20 83.77 L288.70 83.83 L289.20 83.89 L289.70 83.95 L290.20 84.00 L290.70 84.06 L291.20 84.12 L291.70 84.18 L292.20 84.24 L292.70 84.30 L293.20 84.36 L293.70 84.42 L294.20 84.48 L294.70 84.54 L295.20 84.60 L295.70 84.66 L296.20 84.72 L296.70 84.78 L297.20 84.84 L297.70 84.91 L298.20 84.97 L298.70 85.03 L299.20 85.10 L299.70 85.16 L300.20 85.23 L300.70 85.29 L301.20 85.36 L301.70 85.43 L302.20 85.50 L302.70 85.58 L303.20 85.65 L303.70 85.73 L304.20 85.80 L304.70 85.88 L305.20 85.96 L305.70 86.03 L306.20 86.11 L306.70 86.18 L307.20 86.26 L307.70 86.33 L308.20 86.41 L308.70 86.48 L309.20 86.55 L309.70 86.62 L310.20 86.68 L310.70 86.75 L311.20 86.81 L311.70 86.87 L312.20 86.92 L312.70 86.98 L313.20 87.04 L313.70 87.10 L314.20 87.16 L314.70 87.22 L315.20 87.28 L315.70 87.35 L316.20 87.41 L316.70 87.47 L317.20 87.53 L317.70 87.58 L318.20 87.64 L318.70 87.69 L319.20 87.74 L319.70 87.79 L320.20 87.83 L320.70 87.87 L321.20 87.90 L321.70 87.93 L322.20 87.96 L322.70 87.98 L323.20 87.99 L323.70 88.00 L324.20 88.00 L324.70 87.98 L325.20 87.95 L325.70 87.90 L326.20 87.84 L326.70 87.77 L327.20 87.70 L327.70 87.61 L328.20 87.52 L328.70 87.42 L329.20 87.33 L329.70 87.23 L330.20 87.14 L330.70 87.05 L331.20 86.97 L331.70 86.88 L332.20 86.79 L332.70 86.69 L333.20 86.60 L333.70 86.50 L334.20 86.39 L334.70 86.29 L335.20 86.18 L335.70 86.07 L336.20 85.97 L336.70 85.86 L337.20 85.75 L337.70 85.64 L338.20 85.54 L338.70 85.44 L339.20 85.34 L339.70 85.24 L340.20 85.14 L340.70 85.05 L341.20 84.97 L341.70 84.88 L342.20 84.79 L342.70 84.71 L343.20 84.62 L343.70 84.54 L344.20 84.45 L344.70 84.37 L345.20 84.28 L345.70 84.20 L346.20 84.12 L346.70 84.04 L347.20 83.96 L347.70 83.89 L348.20 83.81 L348.70 83.74 L349.20 83.67 L349.70 83.60 L350.20 83.53 L350.70 83.46 L351.20 83.40 L351.70 83.34 L352.20 83.29 L352.70 83.23 L353.20 83.18 L353.70 83.13 L354.20 83.08 L354.70 83.02 L355.20 82.97 L355.70 82.92 L356.20 82.87 L356.70 82.81 L357.20 82.76 L357.70 82.71 L358.20 82.66 L358.70 82.61 L359.20 82.56 L359.70 82.52 L360.20 82.47 L360.70 82.43 L361.20 82.38 L361.70 82.35 L362.20 82.31 L362.70 82.27 L363.20 82.24 L363.70 82.21 L364.20 82.19 L364.70 82.16 L365.20 82.14 L365.70 82.13 L366.20 82.11 L366.70 82.11 L367.20 82.10 L367.70 82.10 L368.20 82.10 L368.70 82.11 L369.20 82.12 L369.70 82.13 L370.20 82.14 L370.70 82.16 L371.20 82.18 L371.70 82.20 L372.20 82.22 L372.70 82.25 L373.20 82.27 L373.70 82.30 L374.20 82.33 L374.70 82.36 L375.20 82.40 L375.70 82.43 L376.20 82.47 L376.70 82.50 L377.20 82.54 L377.70 82.58 L378.20 82.61 L378.70 82.65 L379.20 82.69 L379.70 82.73 L380.20 82.77 L380.70 82.80 L381.20 82.84 L381.70 82.88 L382.20 82.91 L382.70 82.95 L383.20 82.99 L383.70 83.03 L384.20 83.07 L384.70 83.12 L385.20 83.16 L385.70 83.21 L386.20 83.25 L386.70 83.30 L387.20 83.35 L387.70 83.40 L388.20 83.45 L388.70 83.51 L389.20 83.56 L389.70 83.61 L390.20 83.67 L390.70 83.73 L391.20 83.78 L391.70 83.84 L392.20 83.90 L392.70 83.96 L393.20 84.03 L393.70 84.09 L394.20 84.15 L394.70 84.21 L395.20 84.28 L395.70 84.34 L396.20 84.41 L396.70 84.48 L397.20 84.55" stroke="#ffe000" stroke-dasharray="5 2.6 1.4 2.6" stroke-dashoffset="2.00"/>
<path d="M73.70 260.20 L74.20 260.45 L74.70 260.72 L75.20 261.00 L75.70 261.26 L76.20 261.50 L76.70 261.71 L77.20 261.87 L77.70 261.97 L78.20 262.01 L78.70 262.03 L79.20 262.05 L79.70 262.07 L80.20 262.09 L80.70 262.11 L81.20 262.13 L81.70 262.14 L82.20 262.16 L82.70 262.17 L83.20 262.19 L83.70 262.20 L84.20 262.22 L84.70 262.23 L85.20 262.24 L85.70 262.26 L86.20 262.27 L86.70 262.28 L87.20 262.29 L87.70 262.30 L88.20 262.31 L88.70 262.32 L89.20 262.32 L89.70 262.33 L90.20 262.34 L90.70 262.35 L91.20 262.35 L91.70 262.36 L92.20 262.36 L92.70 262.37 L93.20 262.37 L93.70 262.38 L94.20 262.38 L94.70 262.38 L95.20 262.39 L95.70 262.39 L96.20 262.39 L96.70 262.39 L97.20 262.40 L97.70 262.40 L98.20 262.40 L98.70 262.40 L99.20 262.40 L99.70 262.40 L100.20 262.40 L100.70 262.40 L101.20 262.40 L101.70 262.40 L102.20 262.40 L102.70 262.40 L103.20 262.40 L103.70 262.40 L104.20 262.40 L104.70 262.40 L105.20 262.40 L105.70 262.40 L106.20 262.40 L106.70 262.40 L107.20 262.40 L107.70 262.40 L108.20 262.40 L108.70 262.40 L109.20 262.40 L109.70 262.40 L110.20 262.40 L110.70 262.40 L111.20 262.40 L111.70 262.40 L112.20 262.40 L112.70 262.40 L113.20 262.40 L113.70 262.40 L114.20 262.40 L114.70 262.40 L115.20 262.40 L115.70 262.40 L116.20 262.40 L116.70 262.40 L117.20 262.40 L117.70 262.40 L118.20 262.40 L118.70 262.40 L119.20 262.40 L119.70 262.40 L120.20 262.40 L120.70 262.40 L121.20 262.40 L121.70 262.40 L122.20 262.39 L122.70 262.34 L123.20 262.22 L123.70 262.05 L124.20 261.83 L124.70 261.56 L125.20 261.25 L125.70 260.89 L126.20 260.50 L126.70 259.76 L127.20 258.43 L127.70 256.63 L128.20 254.49 L128.70 252.14 L129.20 249.69 L129.70 247.27 L130.20 245.00 L130.70 242.80 L131.20 240.50 L131.70 238.13 L132.20 235.69 L132.70 233.20 L133.20 230.67 L133.70 228.11 L134.20 225.55 L134.70 222.99 L135.20 220.45 L135.70 217.95 L136.20 215.49 L136.70 213.06 L137.20 210.61 L137.70 208.15 L138.20 205.69 L138.70 203.23 L139.20 200.78 L139.70 198.35 L140.20 195.95 L140.70 193.57 L141.20 191.24 L141.70 188.96 L142.20 186.74 L142.70 184.57 L143.20 182.43 L143.70 180.29 L144.20 178.17 L144.70 176.06 L145.20 173.98 L145.70 171.92 L146.20 169.89 L146.70 167.90 L147.20 165.96 L147.70 164.06 L148.20 162.22 L148.70 160.44 L149.20 158.72 L149.70 157.08 L150.20 155.50 L150.70 154.01 L151.20 152.59 L151.70 151.22 L152.20 149.91 L152.70 148.64 L153.20 147.41 L153.70 146.21 L154.20 145.02 L154.70 143.85 L155.20 142.68 L155.70 141.50 L156.20 140.31 L156.70 139.10 L157.20 137.87 L157.70 136.64 L158.20 135.41 L158.70 134.18 L159.20 132.95 L159.70 131.73 L160.20 130.51 L160.70 129.31 L161.20 128.11 L161.70 126.93 L162.20 125.77 L162.70 124.63 L163.20 123.51 L163.70 122.42 L164.20 121.34 L164.70 120.28 L165.20 119.24 L165.70 118.21 L166.20 117.22 L166.70 116.26 L167.20 115.33 L167.70 114.45 L168.20 113.58 L168.70 112.72 L169.20 111.88 L169.70 111.06 L170.20 110.26 L170.70 109.49 L171.20 108.74 L171.70 108.04 L172.20 107.37 L172.70 106.74 L173.20 106.15 L173.70 105.58 L174.20 105.02 L174.70 104.48 L175.20 103.95 L175.70 103.44 L176.20 102.94 L176.70 102.46 L177.20 101.99 L177.70 101.54 L178.20 101.10 L178.70 100.68 L179.20 100.27 L179.70 99.88 L180.20 99.50 L180.70 99.14 L181.20 98.80 L181.70 98.47 L182.20 98.15 L182.70 97.84 L183.20 97.54 L183.70 97.25 L184.20 96.96 L184.70 96.69 L185.20 96.43 L185.70 96.18 L186.20 95.95 L186.70 95.72 L187.20 95.51 L187.70 95.32 L188.20 95.13 L188.70 94.96 L189.20 94.80 L189.70 94.64 L190.20 94.49 L190.70 94.35 L191.20 94.20 L191.70 94.07 L192.20 93.94 L192.70 93.81 L193.20 93.69 L193.70 93.58 L194.20 93.46 L194.70 93.35 L195.20 93.25 L195.70 93.15 L196.20 93.05 L196.70 92.96 L197.20 92.86 L197.70 92.77 L198.20 92.68 L198.70 92.58 L199.20 92.49 L199.70 92.40 L200.20 92.31 L200.70 92.21 L201.20 92.12 L201.70 92.03 L202.20 91.94 L202.70 91.86 L203.20 91.77 L203.70 91.69 L204.20 91.61 L204.70 91.53 L205.20 91.45 L205.70 91.38 L206.20 91.31 L206.70 91.24 L207.20 91.18 L207.70 91.12 L208.20 91.07 L208.70 91.02 L209.20 90.97 L209.70 90.93 L210.20 90.89 L210.70 90.86 L211.20 90.84 L211.70 90.81 L212.20 90.80 L212.70 90.79 L213.20 90.78 L213.70 90.77 L214.20 90.76 L214.70 90.75 L215.20 90.74 L215.70 90.73 L216.20 90.72 L216.70 90.72 L217.20 90.71 L217.70 90.71 L218.20 90.70 L218.70 90.70 L219.20 90.70 L219.70 90.70 L220.20 90.71 L220.70 90.72 L221.20 90.73 L221.70 90.75 L222.20 90.77 L222.70 90.79 L223.20 90.82 L223.70 90.85 L224.20 90.88 L224.70 90.91 L225.20 90.95 L225.70 90.99 L226.20 91.03 L226.70 91.08 L227.20 91.12 L227.70 91.17 L228.20 91.22 L228.70 91.26 L229.20 91.31 L229.70 91.37 L230.20 91.42 L230.70 91.47 L231.20 91.52 L231.70 91.57 L232.20 91.63 L232.70 91.68 L233.20 91.73 L233.70 91.78 L234.20 91.83 L234.70 91.88 L235.20 91.93 L235.70 91.97 L236.20 92.02 L236.70 92.06 L237.20 92.11 L237.70 92.16 L238.20 92.21 L238.70 92.25 L239.20 92.30 L239.70 92.35 L240.20 92.40 L240.70 92.46 L241.20 92.51 L241.70 92.56 L242.20 92.61 L242.70 92.67 L243.20 92.72 L243.70 92.78 L244.20 92.83 L244.70 92.89 L245.20 92.94 L245.70 93.00 L246.20 93.05 L246.70 93.11 L247.20 93.17 L247.70 93.22 L248.20 93.28 L248.70 93.34 L249.20 93.39 L249.70 93.45 L250.20 93.51 L250.70 93.57 L251.20 93.62 L251.70 93.68 L252.20 93.74 L252.70 93.80 L253.20 93.85 L253.70 93.91 L254.20 93.97 L254.70 94.02 L255.20 94.08 L255.70 94.13 L256.20 94.19 L256.70 94.25 L257.20 94.30 L257.70 94.36 L258.20 94.41 L258.70 94.46 L259.20 94.52 L259.70 94.57 L260.20 94.62 L260.70 94.67 L261.20 94.72 L261.70 94.78 L262.20 94.83 L262.70 94.88 L263.20 94.93 L263.70 94.98 L264.20 95.04 L264.70 95.09 L265.20 95.14 L265.70 95.19 L266.20 95.24 L266.70 95.29 L267.20 95.34 L267.70 95.40 L268.20 95.45 L268.70 95.50 L269.20 95.55 L269.70 95.60 L270.20 95.65 L270.70 95.70 L271.20 95.75 L271.70 95.80 L272.20 95.85 L272.70 95.90 L273.20 95.95 L273.70 96.00 L274.20 96.05 L274.70 96.10 L275.20 96.15 L275.70 96.20 L276.20 96.25 L276.70 96.30 L277.20 96.35 L277.70 96.40 L278.20 96.45 L278.70 96.50 L279.20 96.54 L279.70 96.59 L280.20 96.64 L280.70 96.69 L281.20 96.74 L281.70 96.78 L282.20 96.83 L282.70 96.88 L283.20 96.93 L283.70 96.97 L284.20 97.02 L284.70 97.06 L285.20 97.11 L285.70 97.15 L286.20 97.19 L286.70 97.23 L287.20 97.27 L287.70 97.31 L288.20 97.35 L288.70 97.39 L289.20 97.43 L289.70 97.47 L290.20 97.51 L290.70 97.54 L291.20 97.58 L291.70 97.62 L292.20 97.66 L292.70 97.70 L293.20 97.74 L293.70 97.78 L294.20 97.82 L294.70 97.86 L295.20 97.91 L295.70 97.95 L296.20 98.00 L296.70 98.05 L297.20 98.09 L297.70 98.14 L298.20 98.20 L298.70 98.25 L299.20 98.31 L299.70 98.36 L300.20 98.42 L300.70 98.49 L301.20 98.56 L301.70 98.63 L302.20 98.71 L302.70 98.79 L303.20 98.88 L303.70 98.96 L304.20 99.05 L304.70 99.15 L305.20 99.24 L305.70 99.34 L306.20 99.43 L306.70 99.53 L307.20 99.63 L307.70 99.73 L308.20 99.83 L308.70 99.93 L309.20 100.02 L309.70 100.12 L310.20 100.23 L310.70 100.34 L311.20 100.47 L311.70 100.60 L312.20 100.74 L312.70 100.88 L313.20 101.01 L313.70 101.14 L314.20 101.26 L314.70 101.36 L315.20 101.45 L315.70 101.52 L316.20 101.57 L316.70 101.60 L317.20 101.60 L317.70 101.59 L318.20 101.58 L318.70 101.57 L319.20 101.55 L319.70 101.53 L320.20 101.51 L320.70 101.48 L321.20 101.45 L321.70 101.42 L322.20 101.40 L322.70 101.37 L323.20 101.34 L323.70 101.31 L324.20 101.29 L324.70 101.26 L325.20 101.23 L325.70 101.20 L326.20 101.17 L326.70 101.13 L327.20 101.09 L327.70 101.06 L328.20 101.02 L328.70 100.98 L329.20 100.94 L329.70 100.90 L330.20 100.86 L330.70 100.83 L331.20 100.79 L331.70 100.76 L332.20 100.73 L332.70 100.70 L333.20 100.67 L333.70 100.65 L334.20 100.63 L334.70 100.62 L335.20 100.61 L335.70 100.60 L336.20 100.60 L336.70 100.60 L337.20 100.60 L337.70 100.60 L338.20 100.60 L338.70 100.60 L339.20 100.60 L339.70 100.60 L340.20 100.60 L340.70 100.60 L341.20 100.60 L341.70 100.60 L342.20 100.60 L342.70 100.60 L343.20 100.60 L343.70 100.60 L344.20 100.60 L344.70 100.60 L345.20 100.60 L345.70 100.60 L346.20 100.60 L346.70 100.60 L347.20 100.60 L347.70 100.60 L348.20 100.60 L348.70 100.61 L349.20 100.62 L349.70 100.64 L350.20 100.67 L350.70 100.70 L351.20 100.74 L351.70 100.78 L352.20 100.83 L352.70 100.88 L353.20 100.94 L353.70 101.00 L354.20 101.06 L354.70 101.12 L355.20 101.19 L355.70 101.25 L356.20 101.32 L356.70 101.38 L357.20 101.45 L357.70 101.52 L358.20 101.58 L358.70 101.65 L359.20 101.71 L359.70 101.77 L360.20 101.82 L360.70 101.88 L361.20 101.94 L361.70 102.00 L362.20 102.06 L362.70 102.13 L363.20 102.20 L363.70 102.26 L364.20 102.33 L364.70 102.40 L365.20 102.47 L365.70 102.54 L366.20 102.60 L366.70 102.67 L367.20 102.74 L367.70 102.80 L368.20 102.87 L368.70 102.93 L369.20 102.99 L369.70 103.05 L370.20 103.11 L370.70 103.17 L371.20 103.22 L371.70 103.27 L372.20 103.32 L372.70 103.36 L373.20 103.41 L373.70 103.45 L374.20 103.50 L374.70 103.54 L375.20 103.58 L375.70 103.62 L376.20 103.66 L376.70 103.70 L377.20 103.74 L377.70 103.78 L378.20 103.81 L378.70 103.85 L379.20 103.89 L379.70 103.92 L380.20 103.95 L380.70 103.99 L381.20 104.02 L381.70 104.05 L382.20 104.09 L382.70 104.12 L383.20 104.15 L383.70 104.18 L384.20 104.21 L384.70 104.24 L385.20 104.27 L385.70 104.30 L386.20 104.33 L386.70 104.36 L387.20 104.39 L387.70 104.42 L388.20 104.45 L388.70 104.47 L389.20 104.50 L389.70 104.53 L390.20 104.56 L390.70 104.58 L391.20 104.61 L391.70 104.63 L392.20 104.66 L392.70 104.68 L393.20 104.71 L393.70 104.73 L394.20 104.76 L394.70 104.78 L395.20 104.80 L395.70 104.82 L396.20 104.84 L396.70 104.86 L397.20 104.88" stroke="#ff8000" stroke-dasharray="6.4 2.1 1.2 2.1 1.2 2.1 1.2 2.1" stroke-dashoffset="-5.80"/>
<path d="M73.70 259.90 L74.20 260.54 L74.70 261.17 L75.20 261.77 L75.70 262.33 L76.20 262.86 L76.70 263.34 L77.20 263.77 L77.70 264.21 L78.20 264.67 L78.70 265.11 L79.20 265.54 L79.70 265.93 L80.20 266.28 L80.70 266.56 L81.20 266.76 L81.70 266.88 L82.20 266.90 L82.70 266.88 L83.20 266.83 L83.70 266.77 L84.20 266.70 L84.70 266.61 L85.20 266.52 L85.70 266.43 L86.20 266.34 L86.70 266.25 L87.20 266.17 L87.70 266.07 L88.20 265.96 L88.70 265.84 L89.20 265.73 L89.70 265.63 L90.20 265.55 L90.70 265.51 L91.20 265.50 L91.70 265.50 L92.20 265.50 L92.70 265.50 L93.20 265.50 L93.70 265.50 L94.20 265.50 L94.70 265.50 L95.20 265.50 L95.70 265.50 L96.20 265.50 L96.70 265.50 L97.20 265.50 L97.70 265.50 L98.20 265.50 L98.70 265.53 L99.20 265.58 L99.70 265.65 L100.20 265.74 L100.70 265.84 L101.20 265.96 L101.70 266.08 L102.20 266.20 L102.70 266.32 L103.20 266.43 L103.70 266.54 L104.20 266.63 L104.70 266.71 L105.20 266.76 L105.70 266.79 L106.20 266.80 L106.70 266.79 L107.20 266.76 L107.70 266.73 L108.20 266.68 L108.70 266.63 L109.20 266.57 L109.70 266.51 L110.20 266.44 L110.70 266.37 L111.20 266.30 L111.70 266.24 L112.20 266.17 L112.70 266.09 L113.20 266.00 L113.70 265.89 L114.20 265.79 L114.70 265.68 L115.20 265.58 L115.70 265.50 L116.20 265.44 L116.70 265.41 L117.20 265.40 L117.70 265.43 L118.20 265.49 L118.70 265.56 L119.20 265.65 L119.70 265.74 L120.20 265.82 L120.70 265.90 L121.20 265.96 L121.70 265.99 L122.20 266.00 L122.70 266.00 L123.20 265.99 L123.70 265.98 L124.20 265.96 L124.70 265.94 L125.20 265.92 L125.70 265.82 L126.20 265.10 L126.70 263.83 L127.20 262.25 L127.70 260.61 L128.20 258.95 L128.70 256.98 L129.20 254.78 L129.70 252.41 L130.20 249.95 L130.70 247.47 L131.20 245.02 L131.70 242.49 L132.20 239.85 L132.70 237.12 L133.20 234.33 L133.70 231.50 L134.20 228.64 L134.70 225.78 L135.20 222.93 L135.70 220.11 L136.20 217.35 L136.70 214.67 L137.20 212.08 L137.70 209.60 L138.20 207.20 L138.70 204.85 L139.20 202.55 L139.70 200.33 L140.20 198.20 L140.70 196.18 L141.20 194.26 L141.70 192.43 L142.20 190.67 L142.70 188.97 L143.20 187.32 L143.70 185.71 L144.20 184.13 L144.70 182.56 L145.20 181.00 L145.70 179.44 L146.20 177.87 L146.70 176.31 L147.20 174.77 L147.70 173.24 L148.20 171.72 L148.70 170.22 L149.20 168.73 L149.70 167.26 L150.20 165.80 L150.70 164.35 L151.20 162.91 L151.70 161.49 L152.20 160.09 L152.70 158.70 L153.20 157.33 L153.70 155.99 L154.20 154.68 L154.70 153.39 L155.20 152.11 L155.70 150.86 L156.20 149.63 L156.70 148.41 L157.20 147.20 L157.70 146.00 L158.20 144.81 L158.70 143.62 L159.20 142.46 L159.70 141.31 L160.20 140.19 L160.70 139.10 L161.20 138.03 L161.70 136.97 L162.20 135.92 L162.70 134.90 L163.20 133.90 L163.70 132.93 L164.20 131.99 L164.70 131.10 L165.20 130.24 L165.70 129.41 L166.20 128.60 L166.70 127.82 L167.20 127.06 L167.70 126.31 L168.20 125.59 L168.70 124.89 L169.20 124.20 L169.70 123.53 L170.20 122.88 L170.70 122.25 L171.20 121.64 L171.70 121.04 L172.20 120.45 L172.70 119.86 L173.20 119.29 L173.70 118.71 L174.20 118.14 L174.70 117.54 L175.20 116.93 L175.70 116.33 L176.20 115.73 L176.70 115.14 L177.20 114.58 L177.70 114.05 L178.20 113.56 L178.70 113.12 L179.20 112.74 L179.70 112.41 L180.20 112.10 L180.70 111.80 L181.20 111.51 L181.70 111.24 L182.20 110.98 L182.70 110.73 L183.20 110.49 L183.70 110.27 L184.20 110.05 L184.70 109.84 L185.20 109.64 L185.70 109.46 L186.20 109.28 L186.70 109.10 L187.20 108.94 L187.70 108.78 L188.20 108.63 L188.70 108.48 L189.20 108.34 L189.70 108.21 L190.20 108.08 L190.70 107.95 L191.20 107.83 L191.70 107.71 L192.20 107.60 L192.70 107.49 L193.20 107.39 L193.70 107.29 L194.20 107.19 L194.70 107.09 L195.20 107.00 L195.70 106.92 L196.20 106.83 L196.70 106.75 L197.20 106.67 L197.70 106.59 L198.20 106.51 L198.70 106.44 L199.20 106.37 L199.70 106.29 L200.20 106.23 L200.70 106.16 L201.20 106.09 L201.70 106.03 L202.20 105.97 L202.70 105.92 L203.20 105.86 L203.70 105.81 L204.20 105.77 L204.70 105.72 L205.20 105.68 L205.70 105.64 L206.20 105.60 L206.70 105.56 L207.20 105.53 L207.70 105.49 L208.20 105.45 L208.70 105.42 L209.20 105.39 L209.70 105.36 L210.20 105.34 L210.70 105.32 L211.20 105.31 L211.70 105.30 L212.20 105.30 L212.70 105.30 L213.20 105.31 L213.70 105.32 L214.20 105.33 L214.70 105.35 L215.20 105.36 L215.70 105.38 L216.20 105.41 L216.70 105.43 L217.20 105.46 L217.70 105.49 L218.20 105.51 L218.70 105.55 L219.20 105.58 L219.70 105.61 L220.20 105.64 L220.70 105.68 L221.20 105.71 L221.70 105.75 L222.20 105.78 L222.70 105.81 L223.20 105.85 L223.70 105.88 L224.20 105.91 L224.70 105.95 L225.20 105.98 L225.70 106.02 L226.20 106.06 L226.70 106.11 L227.20 106.15 L227.70 106.19 L228.20 106.24 L228.70 106.29 L229.20 106.34 L229.70 106.39 L230.20 106.44 L230.70 106.49 L231.20 106.54 L231.70 106.59 L232.20 106.64 L232.70 106.69 L233.20 106.74 L233.70 106.79 L234.20 106.83 L234.70 106.88 L235.20 106.93 L235.70 106.97 L236.20 107.02 L236.70 107.06 L237.20 107.10 L237.70 107.15 L238.20 107.19 L238.70 107.23 L239.20 107.27 L239.70 107.32 L240.20 107.36 L240.70 107.40 L241.20 107.44 L241.70 107.48 L242.20 107.52 L242.70 107.56 L243.20 107.60 L243.70 107.64 L244.20 107.69 L244.70 107.73 L245.20 107.77 L245.70 107.81 L246.20 107.85 L246.70 107.89 L247.20 107.93 L247.70 107.97 L248.20 108.01 L248.70 108.05 L249.20 108.09 L249.70 108.13 L250.20 108.17 L250.70 108.21 L251.20 108.25 L251.70 108.29 L252.20 108.33 L252.70 108.37 L253.20 108.41 L253.70 108.45 L254.20 108.50 L254.70 108.54 L255.20 108.58 L255.70 108.62 L256.20 108.67 L256.70 108.71 L257.20 108.75 L257.70 108.79 L258.20 108.84 L258.70 108.88 L259.20 108.93 L259.70 108.97 L260.20 109.02 L260.70 109.06 L261.20 109.11 L261.70 109.16 L262.20 109.20 L262.70 109.25 L263.20 109.30 L263.70 109.35 L264.20 109.40 L264.70 109.44 L265.20 109.49 L265.70 109.54 L266.20 109.59 L266.70 109.64 L267.20 109.69 L267.70 109.74 L268.20 109.79 L268.70 109.84 L269.20 109.90 L269.70 109.95 L270.20 110.00 L270.70 110.05 L271.20 110.10 L271.70 110.15 L272.20 110.20 L272.70 110.26 L273.20 110.31 L273.70 110.36 L274.20 110.41 L274.70 110.46 L275.20 110.51 L275.70 110.57 L276.20 110.62 L276.70 110.67 L277.20 110.72 L277.70 110.77 L278.20 110.82 L278.70 110.87 L279.20 110.92 L279.70 110.97 L280.20 111.02 L280.70 111.07 L281.20 111.12 L281.70 111.17 L282.20 111.22 L282.70 111.27 L283.20 111.32 L283.70 111.37 L284.20 111.42 L284.70 111.47 L285.20 111.51 L285.70 111.55 L286.20 111.59 L286.70 111.63 L287.20 111.67 L287.70 111.71 L288.20 111.74 L288.70 111.78 L289.20 111.81 L289.70 111.85 L290.20 111.88 L290.70 111.92 L291.20 111.95 L291.70 111.99 L292.20 112.03 L292.70 112.07 L293.20 112.11 L293.70 112.15 L294.20 112.19 L294.70 112.24 L295.20 112.28 L295.70 112.33 L296.20 112.39 L296.70 112.44 L297.20 112.50 L297.70 112.56 L298.20 112.63 L298.70 112.70 L299.20 112.77 L299.70 112.85 L300.20 112.93 L300.70 113.04 L301.20 113.16 L301.70 113.31 L302.20 113.48 L302.70 113.66 L303.20 113.86 L303.70 114.08 L304.20 114.31 L304.70 114.55 L305.20 114.84 L305.70 115.23 L306.20 115.70 L306.70 116.23 L307.20 116.80 L307.70 117.39 L308.20 117.97 L308.70 118.53 L309.20 119.04 L309.70 119.48 L310.20 119.83 L310.70 120.07 L311.20 120.22 L311.70 120.36 L312.20 120.49 L312.70 120.60 L313.20 120.69 L313.70 120.76 L314.20 120.79 L314.70 120.80 L315.20 120.79 L315.70 120.77 L316.20 120.74 L316.70 120.70 L317.20 120.65 L317.70 120.60 L318.20 120.54 L318.70 120.48 L319.20 120.41 L319.70 120.35 L320.20 120.28 L320.70 120.22 L321.20 120.15 L321.70 120.09 L322.20 120.04 L322.70 119.99 L323.20 119.95 L323.70 119.92 L324.20 119.89 L324.70 119.87 L325.20 119.84 L325.70 119.82 L326.20 119.80 L326.70 119.78 L327.20 119.76 L327.70 119.74 L328.20 119.72 L328.70 119.70 L329.20 119.68 L329.70 119.67 L330.20 119.65 L330.70 119.64 L331.20 119.63 L331.70 119.62 L332.20 119.61 L332.70 119.60 L333.20 119.60 L333.70 119.60 L334.20 119.60 L334.70 119.62 L335.20 119.64 L335.70 119.67 L336.20 119.70 L336.70 119.74 L337.20 119.79 L337.70 119.85 L338.20 119.90 L338.70 119.97 L339.20 120.03 L339.70 120.10 L340.20 120.18 L340.70 120.25 L341.20 120.33 L341.70 120.41 L342.20 120.49 L342.70 120.57 L343.20 120.65 L343.70 120.73 L344.20 120.80 L344.70 120.88 L345.20 120.95 L345.70 121.02 L346.20 121.09 L346.70 121.16 L347.20 121.22 L347.70 121.27 L348.20 121.32 L348.70 121.37 L349.20 121.42 L349.70 121.47 L350.20 121.52 L350.70 121.57 L351.20 121.63 L351.70 121.68 L352.20 121.73 L352.70 121.78 L353.20 121.83 L353.70 121.88 L354.20 121.92 L354.70 121.97 L355.20 122.01 L355.70 122.05 L356.20 122.09 L356.70 122.13 L357.20 122.17 L357.70 122.20 L358.20 122.23 L358.70 122.25 L359.20 122.27 L359.70 122.29 L360.20 122.31 L360.70 122.32 L361.20 122.33 L361.70 122.35 L362.20 122.36 L362.70 122.37 L363.20 122.38 L363.70 122.39 L364.20 122.41 L364.70 122.42 L365.20 122.43 L365.70 122.44 L366.20 122.45 L366.70 122.45 L367.20 122.46 L367.70 122.47 L368.20 122.48 L368.70 122.48 L369.20 122.49 L369.70 122.49 L370.20 122.49 L370.70 122.50 L371.20 122.50 L371.70 122.50 L372.20 122.50 L372.70 122.50 L373.20 122.50 L373.70 122.50 L374.20 122.50 L374.70 122.50 L375.20 122.50 L375.70 122.50 L376.20 122.50 L376.70 122.50 L377.20 122.50 L377.70 122.50 L378.20 122.50 L378.70 122.50 L379.20 122.50 L379.70 122.50 L380.20 122.50 L380.70 122.50 L381.20 122.50 L381.70 122.50 L382.20 122.50 L382.70 122.50 L383.20 122.50 L383.70 122.50 L384.20 122.50 L384.70 122.50 L385.20 122.50 L385.70 122.50 L386.20 122.50 L386.70 122.50 L387.20 122.50 L387.70 122.50 L388.20 122.50 L388.70 122.50 L389.20 122.50 L389.70 122.50 L390.20 122.50 L390.70 122.50 L391.20 122.50 L391.70 122.50 L392.20 122.50 L392.70 122.50 L393.20 122.50 L393.70 122.50 L394.20 122.50 L394.70 122.50 L395.20 122.50 L395.70 122.50 L396.20 122.50 L396.70 122.50 L397.20 122.50" stroke="#ff0000" stroke-dasharray="4.6 3.8" stroke-dashoffset="2.30"/>
</g>
<g fill="none" stroke-width="2.40">
<path d="M290.40 177.59 L333.00 177.59" stroke="#ff0000" stroke-dasharray="4.6 3.8"/>
<path d="M290.40 189.89 L333.00 189.89" stroke="#ff8000" stroke-dasharray="6.4 2.1 1.2 2.1 1.2 2.1 1.2 2.1"/>
<path d="M290.40 202.19 L333.00 202.19" stroke="#ffe000" stroke-dasharray="5 2.6 1.4 2.6"/>
<path d="M290.40 214.49 L333.00 214.49" stroke="#00dcff" stroke-dasharray="4.6 3.8"/>
<path d="M290.40 226.79 L333.00 226.79" stroke="#0028ff" stroke-dasharray="6.4 2.1 1.2 2.1 1.2 2.1 1.2 2.1"/>
<path d="M290.40 239.09 L333.00 239.09" stroke="#5800a6" stroke-dasharray="5 2.6 1.4 2.6"/>
<path d="M290.40 251.39 L333.00 251.39" stroke="#000000"/>
</g>
<g font-size="9.2px" stroke-width="0.25">
<text x="336.60" y="180.29" fill="#ff0000" stroke="#ff0000">Erupt SD</text>
<text x="336.60" y="192.59" fill="#ff8000" stroke="#ff8000">Erupt MD</text>
<text x="336.60" y="204.89" fill="#ffe000" stroke="#ffe000">Erupt WD</text>
<text x="336.60" y="217.19" fill="#00dcff" stroke="#00dcff">No Erupt WD</text>
<text x="336.60" y="229.49" fill="#0028ff" stroke="#0028ff">No Erupt MD</text>
<text x="336.60" y="241.79" fill="#5800a6" stroke="#5800a6">No Erupt SD</text>
<text x="336.60" y="254.09" fill="#000000" stroke="#000000">No Erupt ND</text>
</g>
<g font-size="12px" fill="#000" stroke="#000" stroke-width="0.3">
<text x="73.95" y="289.5" text-anchor="middle">0</text>
<text x="154.80" y="289.5" text-anchor="middle">50</text>
<text x="235.65" y="289.5" text-anchor="middle">100</text>
<text x="316.50" y="289.5" text-anchor="middle">150</text>
<text x="397.35" y="289.5" text-anchor="middle">200</text>
<text x="68.9" y="265.90" text-anchor="end">0</text>
<text x="68.9" y="204.40" text-anchor="end">50</text>
<text x="68.9" y="142.90" text-anchor="end">100</text>
<text x="68.9" y="81.40" text-anchor="end">150</text>
<text x="235.8" y="307.9" text-anchor="middle" font-size="12.5px">Time</text>
</g>
<g transform="translate(35.4 186.1) rotate(-90)" fill="#000" stroke="#000" stroke-width="0.3">
<text x="0.00" y="0" font-size="12.50px">E</text>
<text x="8.10" y="3.40" font-size="7.85px" stroke-width="0.28">pot,inj</text>
<text x="31.20" y="0" font-size="12.50px">=</text>
<text x="39.60" y="0" font-size="12.50px">E</text>
<text x="47.90" y="3.40" font-size="7.85px" stroke-width="0.28">pot</text>
<text x="57.90" y="0" font-size="12.50px">-</text>
<text x="61.90" y="0" font-size="12.50px">E</text>
<text x="69.60" y="3.40" font-size="7.85px" stroke-width="0.28">pot,ini</text>
</g>
</svg></body></html>
